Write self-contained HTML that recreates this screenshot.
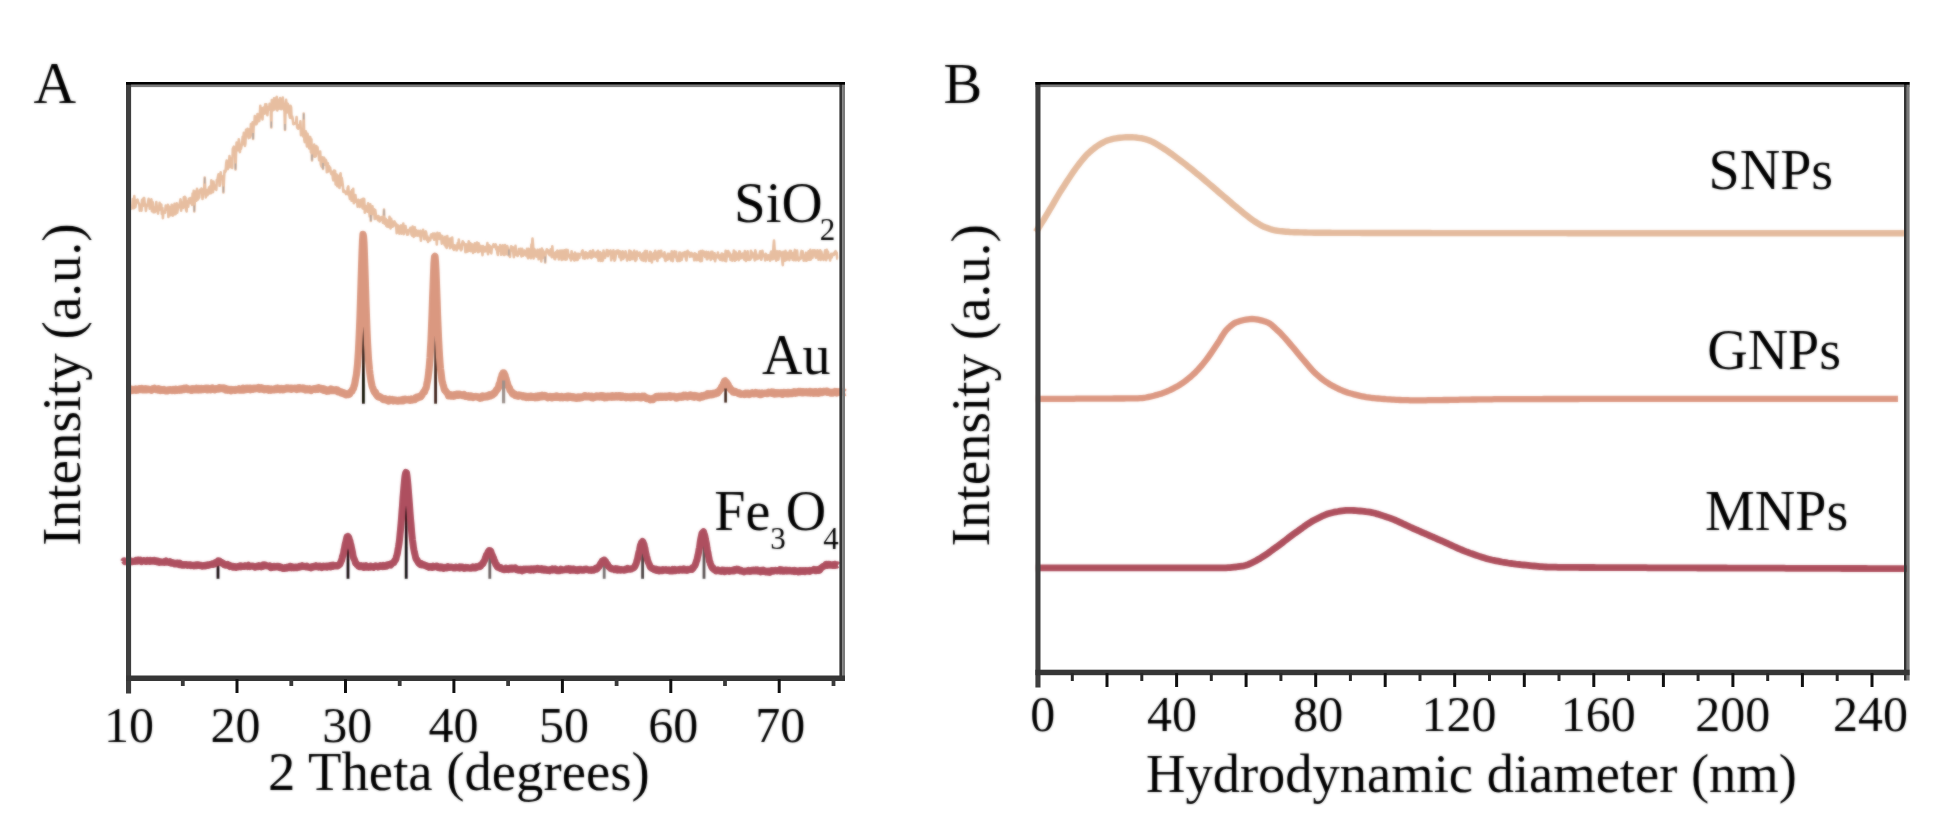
<!DOCTYPE html>
<html lang="en"><head><meta charset="utf-8"><title>XRD and DLS</title>
<style>
html,body{margin:0;padding:0;background:#fff;}
body{width:1947px;height:838px;overflow:hidden;}
svg{display:block;}
text{font-family:"Liberation Serif",serif;fill:#000;}
.t{font-size:50px;text-anchor:middle;}
.l{font-size:56px;}
.s{font-size:31px;}
</style></head><body>
<svg width="1947" height="838" viewBox="0 0 1947 838">
<defs><filter id="soft" x="0" y="0" width="1947" height="838" filterUnits="userSpaceOnUse"><feGaussianBlur stdDeviation="0.9" result="b"/><feComposite in="SourceGraphic" in2="b" operator="arithmetic" k1="0" k2="0.45" k3="0.55" k4="0"/></filter></defs>
<rect x="0" y="0" width="1947" height="838" fill="#fff"/>
<g filter="url(#soft)">
<g id="panelA-data">
<g stroke-width="2.8" fill="none">
<line x1="363.4" y1="285" x2="363.4" y2="403.7" stroke="#120a06"/>
<line x1="435.6" y1="310" x2="435.6" y2="403.7" stroke="#3a2018"/>
<line x1="218" y1="563" x2="218" y2="578.8" stroke="#1a1012"/>
<line x1="348" y1="538" x2="348" y2="578.8" stroke="#1a1012"/>
<line x1="406.2" y1="480" x2="406.2" y2="578.8" stroke="#120a0c"/>
<line x1="489.8" y1="552" x2="489.8" y2="578.8" stroke="#6a6060"/>
<line x1="604.2" y1="560" x2="604.2" y2="578.8" stroke="#777070"/>
<line x1="642.6" y1="542" x2="642.6" y2="578.8" stroke="#4a4242"/>
<line x1="704" y1="535" x2="704" y2="578.8" stroke="#5a5252"/>
</g>
<path d="M131.0,204.8 L131.6,208.6 L132.1,206.9 L132.7,199.1 L133.2,200.2 L133.8,208.3 L134.3,196.0 L134.9,207.5 L135.4,207.2 L136.0,202.6 L136.5,200.3 L137.1,200.0 L137.6,199.7 L138.2,202.5 L138.7,203.4 L139.3,204.2 L139.8,210.6 L140.4,207.8 L140.9,205.5 L141.5,210.8 L142.0,200.0 L142.6,199.4 L143.1,205.9 L143.7,198.0 L144.2,198.0 L144.8,204.9 L145.3,204.4 L145.9,210.9 L146.4,207.0 L147.0,205.5 L147.5,205.4 L148.1,202.0 L148.6,198.9 L149.2,201.5 L149.7,208.7 L150.3,201.9 L150.8,204.4 L151.4,199.4 L151.9,211.1 L152.5,201.8 L153.0,203.6 L153.6,212.3 L154.1,207.3 L154.7,212.2 L155.2,209.4 L155.8,211.0 L156.3,202.1 L156.9,208.6 L157.4,208.3 L158.0,213.6 L158.5,206.6 L159.1,210.1 L159.6,202.8 L160.2,207.5 L160.7,206.8 L161.3,204.6 L161.8,214.0 L162.4,208.0 L162.9,218.2 L163.5,211.2 L164.0,211.6 L164.6,212.1 L165.1,212.7 L165.7,205.5 L166.2,209.6 L166.8,206.9 L167.3,209.1 L167.9,204.9 L168.4,217.0 L169.0,206.5 L169.5,212.7 L170.1,207.5 L170.6,215.3 L171.2,212.3 L171.7,204.7 L172.3,214.5 L172.8,215.6 L173.4,214.9 L173.9,210.0 L174.5,203.8 L175.0,204.2 L175.6,214.2 L176.1,208.7 L176.7,203.2 L177.2,212.8 L177.8,209.1 L178.3,207.9 L178.9,204.9 L179.4,205.1 L180.0,202.4 L180.5,199.3 L181.1,210.8 L181.6,204.8 L182.2,205.7 L182.7,202.2 L183.3,208.0 L183.8,197.4 L184.4,202.0 L184.9,196.9 L185.5,197.8 L186.0,209.5 L186.6,211.4 L187.1,201.2 L187.7,202.2 L188.2,206.8 L188.8,198.9 L189.3,202.1 L189.9,203.0 L190.4,198.0 L191.0,200.0 L191.5,203.1 L192.1,204.8 L192.6,193.6 L193.2,204.4 L193.7,190.8 L194.3,211.5 L194.8,201.6 L195.4,191.6 L195.9,195.3 L196.5,200.7 L197.0,188.8 L197.6,197.3 L198.1,199.4 L198.7,195.0 L199.2,197.7 L199.8,190.2 L200.3,189.5 L200.9,191.5 L201.4,188.6 L202.0,190.6 L202.5,199.0 L203.1,193.3 L203.6,189.5 L204.2,188.2 L204.7,177.5 L205.3,190.0 L205.8,197.5 L206.4,190.4 L206.9,190.1 L207.5,195.2 L208.0,192.6 L208.6,189.8 L209.1,187.2 L209.7,193.4 L210.2,186.2 L210.8,193.3 L211.3,180.4 L211.9,185.3 L212.4,186.2 L213.0,192.2 L213.5,181.5 L214.1,189.2 L214.6,186.9 L215.2,187.1 L215.7,185.3 L216.3,189.9 L216.8,180.0 L217.4,180.4 L217.9,177.0 L218.5,174.2 L219.0,176.0 L219.6,185.8 L220.1,184.0 L220.7,172.4 L221.2,178.9 L221.8,176.1 L222.3,176.9 L222.9,176.9 L223.4,192.5 L224.0,179.3 L224.5,170.8 L225.1,172.2 L225.6,171.2 L226.2,163.4 L226.7,160.5 L227.3,164.8 L227.8,169.2 L228.4,161.3 L228.9,166.6 L229.5,156.1 L230.0,167.3 L230.6,164.6 L231.1,164.7 L231.7,158.3 L232.2,168.0 L232.8,148.9 L233.3,147.7 L233.9,146.6 L234.4,149.3 L235.0,148.3 L235.5,169.5 L236.1,151.6 L236.6,142.6 L237.2,150.4 L237.7,143.0 L238.3,150.3 L238.8,139.3 L239.4,143.1 L239.9,152.2 L240.5,145.2 L241.0,148.7 L241.6,145.6 L242.1,144.1 L242.7,136.7 L243.2,142.0 L243.8,132.8 L244.3,144.1 L244.9,145.9 L245.4,143.4 L246.0,129.9 L246.5,133.8 L247.1,132.7 L247.6,128.7 L248.2,136.1 L248.7,138.1 L249.3,129.5 L249.8,137.5 L250.4,135.6 L250.9,124.1 L251.5,133.4 L252.0,134.4 L252.6,122.3 L253.1,139.0 L253.7,124.9 L254.2,125.5 L254.8,116.0 L255.3,124.0 L255.9,122.3 L256.4,124.3 L257.0,122.9 L257.5,114.1 L258.1,119.7 L258.6,121.2 L259.2,121.0 L259.7,117.8 L260.3,105.8 L260.8,115.6 L261.4,108.1 L261.9,113.5 L262.5,119.4 L263.0,109.8 L263.6,107.5 L264.1,110.5 L264.7,113.6 L265.2,104.2 L265.8,108.5 L266.3,104.2 L266.9,112.7 L267.4,115.2 L268.0,107.4 L268.5,107.0 L269.1,109.4 L269.6,103.7 L270.2,103.9 L270.7,104.9 L271.3,127.5 L271.8,100.0 L272.4,110.7 L272.9,107.5 L273.5,102.5 L274.0,98.4 L274.6,109.4 L275.1,100.4 L275.7,98.3 L276.2,98.0 L276.8,96.9 L277.3,110.4 L277.9,99.7 L278.4,100.1 L279.0,108.8 L279.5,105.2 L280.1,98.0 L280.6,102.2 L281.2,109.1 L281.7,101.6 L282.3,107.4 L282.8,97.6 L283.4,108.4 L283.9,109.7 L284.5,110.9 L285.0,130.0 L285.6,104.4 L286.1,99.9 L286.7,108.0 L287.2,112.5 L287.8,103.8 L288.3,105.6 L288.9,110.7 L289.4,114.8 L290.0,117.8 L290.5,105.8 L291.1,107.5 L291.6,118.3 L292.2,116.6 L292.7,118.8 L293.3,124.2 L293.8,124.2 L294.4,123.6 L294.9,123.5 L295.5,122.8 L296.0,123.4 L296.6,117.0 L297.1,127.3 L297.7,128.3 L298.2,128.7 L298.8,125.2 L299.3,127.1 L299.9,126.6 L300.4,121.2 L301.0,135.1 L301.5,131.1 L302.1,129.5 L302.6,132.9 L303.2,136.5 L303.7,113.5 L304.3,139.9 L304.8,142.1 L305.4,134.4 L305.9,131.3 L306.5,142.0 L307.0,146.5 L307.6,133.9 L308.1,143.6 L308.7,146.2 L309.2,148.5 L309.8,136.8 L310.3,137.1 L310.9,152.1 L311.4,139.2 L312.0,160.5 L312.5,148.1 L313.1,146.9 L313.6,152.5 L314.2,144.6 L314.7,156.8 L315.3,146.7 L315.8,156.2 L316.4,146.1 L316.9,153.2 L317.5,147.2 L318.0,152.4 L318.6,153.1 L319.1,160.2 L319.7,156.9 L320.2,151.5 L320.8,164.3 L321.3,165.8 L321.9,166.9 L322.4,157.4 L323.0,169.0 L323.5,158.5 L324.1,157.7 L324.6,159.8 L325.2,164.8 L325.7,159.7 L326.3,161.2 L326.8,172.3 L327.4,167.3 L327.9,163.4 L328.5,171.4 L329.0,166.0 L329.6,170.6 L330.1,167.5 L330.7,171.7 L331.2,174.1 L331.8,173.3 L332.3,171.9 L332.9,178.5 L333.4,180.3 L334.0,170.6 L334.5,170.6 L335.1,170.9 L335.6,184.5 L336.2,184.6 L336.7,174.6 L337.3,186.3 L337.8,175.6 L338.4,180.6 L338.9,179.1 L339.5,187.9 L340.0,175.6 L340.6,173.2 L341.1,185.1 L341.7,177.9 L342.2,181.0 L342.8,185.0 L343.3,191.7 L343.9,190.5 L344.4,192.1 L345.0,191.7 L345.5,191.5 L346.1,194.1 L346.6,192.2 L347.2,193.6 L347.7,187.8 L348.3,186.4 L348.8,195.5 L349.4,195.6 L349.9,199.0 L350.5,194.8 L351.0,191.5 L351.6,200.8 L352.1,190.1 L352.7,195.8 L353.2,188.8 L353.8,203.3 L354.3,198.2 L354.9,202.0 L355.4,195.0 L356.0,200.5 L356.5,202.1 L357.1,201.7 L357.6,206.6 L358.2,199.7 L358.7,200.0 L359.3,204.4 L359.8,206.9 L360.4,200.3 L360.9,205.5 L361.5,199.5 L362.0,204.8 L362.6,208.4 L363.1,198.9 L363.7,208.7 L364.2,199.1 L364.8,212.8 L365.3,206.4 L365.9,206.0 L366.4,210.8 L367.0,208.5 L367.5,211.8 L368.1,203.2 L368.6,210.3 L369.2,210.7 L369.7,216.3 L370.3,204.3 L370.8,221.0 L371.4,213.3 L371.9,212.6 L372.5,206.4 L373.0,213.9 L373.6,209.2 L374.1,209.2 L374.7,219.0 L375.2,210.0 L375.8,214.0 L376.3,218.4 L376.9,218.2 L377.4,216.4 L378.0,220.3 L378.5,216.0 L379.1,218.5 L379.6,221.5 L380.2,220.0 L380.7,219.8 L381.3,217.0 L381.8,219.4 L382.4,217.5 L382.9,222.6 L383.5,218.0 L384.0,209.5 L384.6,223.8 L385.1,220.7 L385.7,218.8 L386.2,225.7 L386.8,220.0 L387.3,226.6 L387.9,226.1 L388.4,221.8 L389.0,227.0 L389.5,216.9 L390.1,221.9 L390.6,228.5 L391.2,218.8 L391.7,225.0 L392.3,226.7 L392.8,221.8 L393.4,226.2 L393.9,224.3 L394.5,221.4 L395.0,223.1 L395.6,223.3 L396.1,225.4 L396.7,233.2 L397.2,224.8 L397.8,226.3 L398.3,225.5 L398.9,228.5 L399.4,233.6 L400.0,233.0 L400.5,226.5 L401.1,225.3 L401.6,233.6 L402.2,228.7 L402.7,231.4 L403.3,223.6 L403.8,234.2 L404.4,227.1 L404.9,229.7 L405.5,226.0 L406.0,229.1 L406.6,232.7 L407.1,234.8 L407.7,230.4 L408.2,234.4 L408.8,230.6 L409.3,229.6 L409.9,230.0 L410.4,227.8 L411.0,229.5 L411.5,234.7 L412.1,235.7 L412.6,226.6 L413.2,235.6 L413.7,236.8 L414.3,232.2 L414.8,227.4 L415.4,235.6 L415.9,230.1 L416.5,235.4 L417.0,232.1 L417.6,235.6 L418.1,230.9 L418.7,233.9 L419.2,234.7 L419.8,236.2 L420.3,230.8 L420.9,240.7 L421.4,232.2 L422.0,232.6 L422.5,232.1 L423.1,229.8 L423.6,234.5 L424.2,239.1 L424.7,238.5 L425.3,232.0 L425.8,231.4 L426.4,233.9 L426.9,239.8 L427.5,236.3 L428.0,242.0 L428.6,238.7 L429.1,238.4 L429.7,240.4 L430.2,240.3 L430.8,235.3 L431.3,234.3 L431.9,236.7 L432.4,237.5 L433.0,233.5 L433.5,237.1 L434.1,239.8 L434.6,233.5 L435.2,233.7 L435.7,234.3 L436.3,235.8 L436.8,244.5 L437.4,232.8 L437.9,235.0 L438.5,234.9 L439.0,238.9 L439.6,233.3 L440.1,239.0 L440.7,235.4 L441.2,236.9 L441.8,243.6 L442.3,236.1 L442.9,241.7 L443.4,239.2 L444.0,239.5 L444.5,244.7 L445.1,236.7 L445.6,246.4 L446.2,246.1 L446.7,248.0 L447.3,236.0 L447.8,243.8 L448.4,243.2 L448.9,245.5 L449.5,238.8 L450.0,248.2 L450.6,247.5 L451.1,238.2 L451.7,238.9 L452.2,237.5 L452.8,247.6 L453.3,248.8 L453.9,249.9 L454.4,245.4 L455.0,246.3 L455.5,246.6 L456.1,245.5 L456.6,250.3 L457.2,248.2 L457.7,243.1 L458.3,245.4 L458.8,239.6 L459.4,248.3 L459.9,248.1 L460.5,244.9 L461.0,250.3 L461.6,249.3 L462.1,244.3 L462.7,241.3 L463.2,242.1 L463.8,242.8 L464.3,244.4 L464.9,246.2 L465.4,252.1 L466.0,244.3 L466.5,251.9 L467.1,249.3 L467.6,251.5 L468.2,246.1 L468.7,241.3 L469.3,250.8 L469.8,244.4 L470.4,243.2 L470.9,251.1 L471.5,249.8 L472.0,244.2 L472.6,244.9 L473.1,253.0 L473.7,245.0 L474.2,250.3 L474.8,243.4 L475.3,251.7 L475.9,243.4 L476.4,248.2 L477.0,242.5 L477.5,248.7 L478.1,252.3 L478.6,243.2 L479.2,245.5 L479.7,251.4 L480.3,249.5 L480.8,246.1 L481.4,249.9 L481.9,247.8 L482.5,255.1 L483.0,246.0 L483.6,251.6 L484.1,250.1 L484.7,251.4 L485.2,247.1 L485.8,251.3 L486.3,251.0 L486.9,247.4 L487.4,243.1 L488.0,254.3 L488.5,251.4 L489.1,245.4 L489.6,251.7 L490.2,246.4 L490.7,248.7 L491.3,253.4 L491.8,248.6 L492.4,246.7 L492.9,247.0 L493.5,244.3 L494.0,246.1 L494.6,246.8 L495.1,245.7 L495.7,244.4 L496.2,249.3 L496.8,246.4 L497.3,252.6 L497.9,254.9 L498.4,247.3 L499.0,250.9 L499.5,250.2 L500.1,245.1 L500.6,245.8 L501.2,254.8 L501.7,250.1 L502.3,254.0 L502.8,245.4 L503.4,251.7 L503.9,254.9 L504.5,255.0 L505.0,245.0 L505.6,251.1 L506.1,249.4 L506.7,254.1 L507.2,246.1 L507.8,248.4 L508.3,254.9 L508.9,255.5 L509.4,250.9 L510.0,256.9 L510.5,249.5 L511.1,246.3 L511.6,250.4 L512.2,247.7 L512.7,247.0 L513.3,252.7 L513.8,257.2 L514.4,253.0 L514.9,253.8 L515.5,245.8 L516.0,253.1 L516.6,255.2 L517.1,253.4 L517.7,255.9 L518.2,254.0 L518.8,249.1 L519.3,253.6 L519.9,252.6 L520.4,248.9 L521.0,254.2 L521.5,256.5 L522.1,248.7 L522.6,253.5 L523.2,255.7 L523.7,252.0 L524.3,250.5 L524.8,251.7 L525.4,253.7 L525.9,255.4 L526.5,254.0 L527.0,248.8 L527.6,257.0 L528.1,258.2 L528.7,248.9 L529.2,250.6 L529.8,249.8 L530.3,257.5 L530.9,258.2 L531.4,244.6 L532.0,245.3 L532.5,238.6 L533.1,245.4 L533.6,258.5 L534.2,248.8 L534.7,250.0 L535.3,253.6 L535.8,254.0 L536.4,256.6 L536.9,253.1 L537.5,249.8 L538.0,252.2 L538.6,259.3 L539.1,256.7 L539.7,249.6 L540.2,257.4 L540.8,251.9 L541.3,261.4 L541.9,248.5 L542.4,258.2 L543.0,250.3 L543.5,253.6 L544.1,255.9 L544.6,254.2 L545.2,262.5 L545.7,251.9 L546.3,251.8 L546.8,249.2 L547.4,251.1 L547.9,250.1 L548.5,253.9 L549.0,252.7 L549.6,255.3 L550.1,251.9 L550.7,249.2 L551.2,252.5 L551.8,257.3 L552.3,246.3 L552.9,253.4 L553.4,257.3 L554.0,253.4 L554.5,258.8 L555.1,259.2 L555.6,252.4 L556.2,257.2 L556.7,251.8 L557.3,250.6 L557.8,253.9 L558.4,255.8 L558.9,259.5 L559.5,250.7 L560.0,257.1 L560.6,254.4 L561.1,250.6 L561.7,260.0 L562.2,256.9 L562.8,250.6 L563.3,259.3 L563.9,250.4 L564.4,250.3 L565.0,253.0 L565.5,259.7 L566.1,249.7 L566.6,259.5 L567.2,256.1 L567.7,250.1 L568.3,255.7 L568.8,254.5 L569.4,255.7 L569.9,258.1 L570.5,257.0 L571.0,260.5 L571.6,251.2 L572.1,258.5 L572.7,254.1 L573.2,258.2 L573.8,259.4 L574.3,260.5 L574.9,252.5 L575.4,254.6 L576.0,260.0 L576.5,257.0 L577.1,253.7 L577.6,260.0 L578.2,257.0 L578.7,253.8 L579.3,258.0 L579.8,254.9 L580.4,254.6 L580.9,254.0 L581.5,254.5 L582.0,251.3 L582.6,250.4 L583.1,258.1 L583.7,256.0 L584.2,257.2 L584.8,258.6 L585.3,252.3 L585.9,252.4 L586.4,252.9 L587.0,253.2 L587.5,258.2 L588.1,254.0 L588.6,253.4 L589.2,256.9 L589.7,251.9 L590.3,251.1 L590.8,257.6 L591.4,258.2 L591.9,252.7 L592.5,256.9 L593.0,250.3 L593.6,254.4 L594.1,256.3 L594.7,252.7 L595.2,253.8 L595.8,256.7 L596.3,256.4 L596.9,251.7 L597.4,257.7 L598.0,250.9 L598.5,260.6 L599.1,252.2 L599.6,252.8 L600.2,252.2 L600.7,260.9 L601.3,253.2 L601.8,256.7 L602.4,260.9 L602.9,260.4 L603.5,250.5 L604.0,255.8 L604.6,256.6 L605.1,257.8 L605.7,253.8 L606.2,253.7 L606.8,250.1 L607.3,250.5 L607.9,256.1 L608.4,250.9 L609.0,252.3 L609.5,253.8 L610.1,250.9 L610.6,250.5 L611.2,260.3 L611.7,254.9 L612.3,252.4 L612.8,257.9 L613.4,250.3 L613.9,252.8 L614.5,260.6 L615.0,260.0 L615.6,257.1 L616.1,251.2 L616.7,253.7 L617.2,250.5 L617.8,252.6 L618.3,250.5 L618.9,251.6 L619.4,257.1 L620.0,251.3 L620.5,251.9 L621.1,260.1 L621.6,253.9 L622.2,253.9 L622.7,251.2 L623.3,258.9 L623.8,257.6 L624.4,256.2 L624.9,257.0 L625.5,251.4 L626.0,253.1 L626.6,256.6 L627.1,260.6 L627.7,259.2 L628.2,257.3 L628.8,255.9 L629.3,250.5 L629.9,260.0 L630.4,251.0 L631.0,251.7 L631.5,257.8 L632.1,259.1 L632.6,258.9 L633.2,255.2 L633.7,252.3 L634.3,250.7 L634.8,259.6 L635.4,260.9 L635.9,253.0 L636.5,259.7 L637.0,251.5 L637.6,253.7 L638.1,255.8 L638.7,254.2 L639.2,255.2 L639.8,252.6 L640.3,258.1 L640.9,255.8 L641.4,259.8 L642.0,260.1 L642.5,253.8 L643.1,253.4 L643.6,260.6 L644.2,255.9 L644.7,251.5 L645.3,250.9 L645.8,261.1 L646.4,256.7 L646.9,251.0 L647.5,256.0 L648.0,255.9 L648.6,255.2 L649.1,260.7 L649.7,260.7 L650.2,251.8 L650.8,252.1 L651.3,254.9 L651.9,262.4 L652.4,257.2 L653.0,258.4 L653.5,254.3 L654.1,252.8 L654.6,259.3 L655.2,250.7 L655.7,258.0 L656.3,252.6 L656.8,255.6 L657.4,261.0 L657.9,256.3 L658.5,251.1 L659.0,255.1 L659.6,257.6 L660.1,251.1 L660.7,253.3 L661.2,250.7 L661.8,256.3 L662.3,254.6 L662.9,256.0 L663.4,253.7 L664.0,257.6 L664.5,252.4 L665.1,260.3 L665.6,260.9 L666.2,255.9 L666.7,255.6 L667.3,259.8 L667.8,253.7 L668.4,259.2 L668.9,253.7 L669.5,258.3 L670.0,254.2 L670.6,257.0 L671.1,260.5 L671.7,251.2 L672.2,259.2 L672.8,261.1 L673.3,254.7 L673.9,254.4 L674.4,251.4 L675.0,253.4 L675.5,257.3 L676.1,251.7 L676.6,257.8 L677.2,260.9 L677.7,261.1 L678.3,258.9 L678.8,259.2 L679.4,252.5 L679.9,261.0 L680.5,252.8 L681.0,259.9 L681.6,260.0 L682.1,257.3 L682.7,256.2 L683.2,252.8 L683.8,256.2 L684.3,253.8 L684.9,252.0 L685.4,252.0 L686.0,259.2 L686.5,260.5 L687.1,252.2 L687.6,250.8 L688.2,253.5 L688.7,252.1 L689.3,252.7 L689.8,256.9 L690.4,255.2 L690.9,255.2 L691.5,252.9 L692.0,256.5 L692.6,253.8 L693.1,254.9 L693.7,255.6 L694.2,260.3 L694.8,253.3 L695.3,258.3 L695.9,254.0 L696.4,260.2 L697.0,254.9 L697.5,256.1 L698.1,260.0 L698.6,257.8 L699.2,251.7 L699.7,252.2 L700.3,261.2 L700.8,251.0 L701.4,254.4 L701.9,260.9 L702.5,250.9 L703.0,252.4 L703.6,253.0 L704.1,251.6 L704.7,255.7 L705.2,257.0 L705.8,254.1 L706.3,251.8 L706.9,259.3 L707.4,259.2 L708.0,256.7 L708.5,252.1 L709.1,256.4 L709.6,257.4 L710.2,255.2 L710.7,259.9 L711.3,251.8 L711.8,256.1 L712.4,251.9 L712.9,256.7 L713.5,258.8 L714.0,258.4 L714.6,253.4 L715.1,261.2 L715.7,258.3 L716.2,255.2 L716.8,255.1 L717.3,257.2 L717.9,252.5 L718.4,257.5 L719.0,258.3 L719.5,256.1 L720.1,259.9 L720.6,255.0 L721.2,255.6 L721.7,253.6 L722.3,260.4 L722.8,254.0 L723.4,258.0 L723.9,255.0 L724.5,260.6 L725.0,260.7 L725.6,250.9 L726.1,261.2 L726.7,257.0 L727.2,251.3 L727.8,255.9 L728.3,251.1 L728.9,256.4 L729.4,252.5 L730.0,254.5 L730.5,259.9 L731.1,257.0 L731.6,259.4 L732.2,260.6 L732.7,254.0 L733.3,256.6 L733.8,250.5 L734.4,254.5 L734.9,260.8 L735.5,251.7 L736.0,259.8 L736.6,257.5 L737.1,253.6 L737.7,258.8 L738.2,253.6 L738.8,260.1 L739.3,251.3 L739.9,251.7 L740.4,258.5 L741.0,255.3 L741.5,258.0 L742.1,256.0 L742.6,253.6 L743.2,256.3 L743.7,258.4 L744.3,259.7 L744.8,251.0 L745.4,256.8 L745.9,261.0 L746.5,255.3 L747.0,258.7 L747.6,251.4 L748.1,259.8 L748.7,256.6 L749.2,260.0 L749.8,258.9 L750.3,259.7 L750.9,250.9 L751.4,258.1 L752.0,252.4 L752.5,253.2 L753.1,253.8 L753.6,256.7 L754.2,257.1 L754.7,260.4 L755.3,250.4 L755.8,252.4 L756.4,254.2 L756.9,259.1 L757.5,256.2 L758.0,255.8 L758.6,258.5 L759.1,257.4 L759.7,253.4 L760.2,251.2 L760.8,255.2 L761.3,259.8 L761.9,256.7 L762.4,250.8 L763.0,255.0 L763.5,254.4 L764.1,256.5 L764.6,256.6 L765.2,260.5 L765.7,253.8 L766.3,254.6 L766.8,256.8 L767.4,259.8 L767.9,257.8 L768.5,255.3 L769.0,259.0 L769.6,255.4 L770.1,260.6 L770.7,253.2 L771.2,251.5 L771.8,259.2 L772.3,253.3 L772.9,259.3 L773.4,247.3 L774.0,240.5 L774.5,247.3 L775.1,258.7 L775.6,250.8 L776.2,260.6 L776.7,259.6 L777.3,253.4 L777.8,251.4 L778.4,259.7 L778.9,255.3 L779.5,251.4 L780.0,255.5 L780.6,251.7 L781.1,254.5 L781.7,257.0 L782.2,260.0 L782.8,265.2 L783.3,251.8 L783.9,255.2 L784.4,255.4 L785.0,260.8 L785.5,250.9 L786.1,255.6 L786.6,260.0 L787.2,254.3 L787.7,252.8 L788.3,256.1 L788.8,253.5 L789.4,260.1 L789.9,250.9 L790.5,252.2 L791.0,250.9 L791.6,257.7 L792.1,253.1 L792.7,259.8 L793.2,259.7 L793.8,260.2 L794.3,252.7 L794.9,249.9 L795.4,254.1 L796.0,260.3 L796.5,258.3 L797.1,250.5 L797.6,257.6 L798.2,259.9 L798.7,260.5 L799.3,257.7 L799.8,259.3 L800.4,259.1 L800.9,253.8 L801.5,250.9 L802.0,257.8 L802.6,251.3 L803.1,255.6 L803.7,260.8 L804.2,256.0 L804.8,255.5 L805.3,260.2 L805.9,252.9 L806.4,260.8 L807.0,259.8 L807.5,253.8 L808.1,253.4 L808.6,251.2 L809.2,259.8 L809.7,251.8 L810.3,249.8 L810.8,259.6 L811.4,256.3 L811.9,257.1 L812.5,257.8 L813.0,250.2 L813.6,254.3 L814.1,255.2 L814.7,250.3 L815.2,255.3 L815.8,257.8 L816.3,256.9 L816.9,256.5 L817.4,250.2 L818.0,252.3 L818.5,259.6 L819.1,251.0 L819.6,255.5 L820.2,250.2 L820.7,260.0 L821.3,251.5 L821.8,254.2 L822.4,255.7 L822.9,258.7 L823.5,260.0 L824.0,257.7 L824.6,253.4 L825.1,250.4 L825.7,257.4 L826.2,260.3 L826.8,249.8 L827.3,258.1 L827.9,251.5 L828.4,254.6 L829.0,255.3 L829.5,256.3 L830.1,260.5 L830.6,257.1 L831.2,253.9 L831.7,257.4 L832.3,254.7 L832.8,254.1 L833.4,253.6 L833.9,255.0 L834.5,252.6 L835.0,252.2 L835.6,251.1 L836.1,254.4 L836.7,252.7 L837.2,258.7 L837.8,258.9" fill="none" stroke="#e7bea0" stroke-width="2.6" stroke-linejoin="round"/>
<g stroke="#8f969e" stroke-width="1.4" opacity="0.7">
<line x1="204.7" y1="183.5" x2="204.7" y2="177.5"/>
<line x1="223.4" y1="186.5" x2="223.4" y2="192.5"/>
<line x1="194.3" y1="205.5" x2="194.3" y2="211.5"/>
<line x1="235.5" y1="163.5" x2="235.5" y2="169.5"/>
<line x1="253.1" y1="133.0" x2="253.1" y2="139.0"/>
<line x1="271.3" y1="121.5" x2="271.3" y2="127.5"/>
<line x1="285.0" y1="124.0" x2="285.0" y2="130.0"/>
<line x1="303.7" y1="119.5" x2="303.7" y2="113.5"/>
<line x1="312.0" y1="154.5" x2="312.0" y2="160.5"/>
<line x1="323.0" y1="163.0" x2="323.0" y2="169.0"/>
<line x1="370.8" y1="215.0" x2="370.8" y2="221.0"/>
<line x1="384.0" y1="215.5" x2="384.0" y2="209.5"/>
<line x1="508.9" y1="249.5" x2="508.9" y2="255.5"/>
<line x1="545.2" y1="256.5" x2="545.2" y2="262.5"/>
</g>
<path d="M129.0,389.3 L129.5,388.9 L130.0,388.9 L130.5,389.6 L131.0,389.6 L131.5,390.6 L132.0,389.3 L132.5,390.2 L133.0,390.3 L133.5,389.7 L134.0,389.8 L134.5,389.4 L135.0,389.3 L135.5,389.0 L136.0,390.3 L136.5,389.3 L137.0,389.3 L137.5,390.0 L138.0,389.3 L138.5,389.5 L139.0,388.7 L139.5,388.6 L140.0,389.5 L140.5,388.6 L141.0,388.8 L141.5,389.4 L142.0,388.6 L142.5,389.9 L143.0,388.6 L143.5,389.0 L144.0,389.2 L144.5,389.3 L145.0,389.8 L145.5,388.7 L146.0,389.7 L146.5,389.9 L147.0,389.0 L147.5,389.6 L148.0,389.4 L148.5,389.2 L149.0,389.5 L149.5,389.7 L150.0,389.8 L150.5,389.9 L151.0,389.7 L151.5,390.2 L152.0,389.5 L152.5,388.8 L153.0,388.6 L153.5,388.7 L154.0,388.8 L154.5,388.4 L155.0,389.2 L155.5,389.4 L156.0,389.6 L156.5,389.3 L157.0,389.4 L157.5,389.2 L158.0,390.1 L158.5,388.6 L159.0,389.3 L159.5,389.9 L160.0,389.4 L160.5,390.5 L161.0,390.1 L161.5,389.8 L162.0,389.6 L162.5,390.0 L163.0,390.3 L163.5,389.9 L164.0,389.5 L164.5,390.3 L165.0,390.0 L165.5,390.8 L166.0,390.6 L166.5,391.0 L167.0,391.0 L167.5,390.9 L168.0,390.1 L168.5,390.5 L169.0,389.9 L169.5,389.8 L170.0,389.6 L170.5,389.6 L171.0,390.2 L171.5,390.0 L172.0,390.5 L172.5,389.9 L173.0,389.6 L173.5,390.3 L174.0,389.8 L174.5,390.5 L175.0,389.5 L175.5,389.9 L176.0,389.3 L176.5,389.6 L177.0,390.3 L177.5,389.7 L178.0,390.2 L178.5,390.1 L179.0,389.2 L179.5,389.1 L180.0,390.3 L180.5,389.3 L181.0,389.6 L181.5,389.0 L182.0,389.9 L182.5,388.7 L183.0,389.1 L183.5,389.1 L184.0,389.5 L184.5,388.3 L185.0,388.9 L185.5,388.8 L186.0,388.9 L186.5,388.1 L187.0,388.7 L187.5,389.3 L188.0,389.6 L188.5,388.9 L189.0,389.2 L189.5,389.1 L190.0,389.0 L190.5,389.0 L191.0,390.2 L191.5,388.9 L192.0,390.3 L192.5,388.9 L193.0,388.7 L193.5,388.9 L194.0,389.0 L194.5,389.7 L195.0,389.9 L195.5,389.7 L196.0,388.9 L196.5,388.2 L197.0,389.6 L197.5,389.8 L198.0,388.9 L198.5,390.0 L199.0,388.4 L199.5,389.6 L200.0,389.3 L200.5,389.7 L201.0,389.9 L201.5,388.5 L202.0,389.3 L202.5,389.0 L203.0,389.4 L203.5,388.7 L204.0,389.1 L204.5,389.3 L205.0,388.4 L205.5,389.1 L206.0,389.5 L206.5,388.2 L207.0,389.8 L207.5,389.0 L208.0,388.4 L208.5,389.7 L209.0,388.9 L209.5,388.9 L210.0,388.7 L210.5,389.7 L211.0,388.4 L211.5,388.8 L212.0,388.6 L212.5,388.0 L213.0,389.2 L213.5,388.7 L214.0,389.0 L214.5,389.7 L215.0,389.1 L215.5,388.8 L216.0,389.4 L216.5,389.2 L217.0,388.5 L217.5,388.3 L218.0,388.5 L218.5,388.9 L219.0,387.9 L219.5,389.0 L220.0,387.8 L220.5,388.0 L221.0,387.9 L221.5,388.3 L222.0,388.4 L222.5,388.8 L223.0,388.9 L223.5,387.9 L224.0,389.0 L224.5,388.2 L225.0,388.8 L225.5,388.5 L226.0,390.1 L226.5,389.2 L227.0,390.0 L227.5,389.1 L228.0,390.3 L228.5,389.5 L229.0,389.9 L229.5,390.3 L230.0,389.5 L230.5,390.2 L231.0,390.7 L231.5,389.5 L232.0,389.9 L232.5,389.6 L233.0,389.5 L233.5,389.8 L234.0,389.7 L234.5,390.1 L235.0,390.4 L235.5,390.0 L236.0,389.5 L236.5,389.7 L237.0,389.7 L237.5,389.9 L238.0,389.8 L238.5,389.3 L239.0,388.7 L239.5,390.1 L240.0,389.2 L240.5,389.4 L241.0,390.0 L241.5,389.0 L242.0,390.1 L242.5,388.9 L243.0,388.4 L243.5,389.3 L244.0,389.9 L244.5,389.2 L245.0,389.8 L245.5,389.0 L246.0,389.4 L246.5,388.3 L247.0,388.7 L247.5,388.3 L248.0,389.1 L248.5,388.6 L249.0,388.8 L249.5,388.2 L250.0,388.8 L250.5,389.6 L251.0,388.3 L251.5,388.5 L252.0,389.1 L252.5,389.1 L253.0,389.3 L253.5,388.3 L254.0,388.9 L254.5,388.2 L255.0,388.7 L255.5,388.8 L256.0,388.2 L256.5,388.3 L257.0,388.3 L257.5,387.9 L258.0,388.0 L258.5,388.8 L259.0,387.6 L259.5,389.3 L260.0,389.2 L260.5,389.2 L261.0,388.9 L261.5,387.8 L262.0,388.3 L262.5,388.5 L263.0,388.4 L263.5,388.3 L264.0,389.8 L264.5,389.8 L265.0,389.7 L265.5,388.9 L266.0,389.7 L266.5,389.7 L267.0,388.9 L267.5,388.5 L268.0,388.5 L268.5,389.3 L269.0,390.2 L269.5,388.9 L270.0,389.5 L270.5,389.4 L271.0,390.2 L271.5,389.1 L272.0,389.8 L272.5,389.3 L273.0,389.4 L273.5,389.8 L274.0,389.6 L274.5,389.8 L275.0,388.7 L275.5,388.5 L276.0,388.4 L276.5,388.4 L277.0,388.2 L277.5,389.5 L278.0,388.2 L278.5,388.4 L279.0,389.3 L279.5,389.2 L280.0,389.7 L280.5,388.8 L281.0,388.5 L281.5,389.6 L282.0,389.0 L282.5,389.7 L283.0,388.6 L283.5,388.6 L284.0,389.6 L284.5,389.5 L285.0,389.2 L285.5,389.1 L286.0,388.8 L286.5,387.9 L287.0,387.9 L287.5,388.1 L288.0,388.7 L288.5,388.0 L289.0,388.0 L289.5,388.6 L290.0,388.7 L290.5,388.4 L291.0,389.5 L291.5,389.5 L292.0,388.1 L292.5,388.8 L293.0,388.5 L293.5,388.6 L294.0,388.3 L294.5,388.4 L295.0,388.2 L295.5,388.4 L296.0,389.1 L296.5,388.5 L297.0,389.4 L297.5,389.1 L298.0,388.1 L298.5,388.7 L299.0,389.0 L299.5,387.7 L300.0,388.4 L300.5,388.3 L301.0,388.2 L301.5,388.1 L302.0,388.0 L302.5,388.9 L303.0,388.1 L303.5,388.4 L304.0,389.2 L304.5,388.3 L305.0,388.7 L305.5,389.9 L306.0,389.4 L306.5,389.5 L307.0,388.9 L307.5,389.7 L308.0,389.4 L308.5,389.8 L309.0,389.4 L309.5,388.8 L310.0,390.1 L310.5,390.0 L311.0,390.4 L311.5,389.7 L312.0,389.5 L312.5,389.2 L313.0,389.1 L313.5,388.8 L314.0,388.6 L314.5,388.7 L315.0,388.6 L315.5,389.4 L316.0,388.7 L316.5,389.2 L317.0,388.1 L317.5,388.2 L318.0,389.2 L318.5,387.6 L319.0,387.7 L319.5,388.3 L320.0,388.0 L320.5,388.2 L321.0,389.0 L321.5,389.3 L322.0,388.6 L322.5,389.3 L323.0,389.4 L323.5,390.3 L324.0,388.8 L324.5,389.3 L325.0,389.9 L325.5,389.5 L326.0,390.9 L326.5,391.2 L327.0,390.0 L327.5,391.0 L328.0,390.3 L328.5,391.0 L329.0,389.9 L329.5,389.5 L330.0,389.5 L330.5,389.9 L331.0,389.0 L331.5,390.5 L332.0,390.2 L332.5,390.1 L333.0,390.3 L333.5,390.0 L334.0,390.6 L334.5,390.6 L335.0,390.3 L335.5,389.9 L336.0,389.7 L336.5,390.3 L337.0,390.5 L337.5,390.0 L338.0,391.7 L338.5,391.3 L339.0,392.0 L339.5,391.2 L340.0,392.1 L340.5,392.5 L341.0,391.8 L341.5,393.1 L342.0,392.3 L342.5,392.5 L343.0,393.4 L343.5,392.9 L344.0,393.9 L344.5,393.1 L345.0,393.4 L345.5,394.4 L346.0,394.9 L346.5,394.8 L347.0,394.2 L347.5,394.6 L348.0,394.2 L348.5,394.5 L349.0,393.4 L349.5,394.1 L350.0,393.4 L350.5,392.0 L351.0,391.7 L351.5,391.3 L352.0,391.2 L352.5,389.5 L353.0,389.0 L353.5,388.3 L354.0,385.9 L354.5,385.2 L355.0,382.3 L355.5,379.4 L356.0,376.9 L356.5,374.1 L357.0,369.5 L357.5,364.9 L358.0,357.9 L358.5,350.2 L359.0,340.2 L359.5,329.0 L360.0,316.3 L360.5,300.9 L361.0,284.8 L361.5,268.9 L362.0,254.1 L362.5,241.3 L363.0,234.3 L363.5,236.5 L364.0,243.2 L364.5,256.7 L365.0,271.8 L365.5,287.6 L366.0,304.1 L366.5,318.0 L367.0,331.0 L367.5,342.6 L368.0,351.1 L368.5,359.4 L369.0,364.9 L369.5,370.1 L370.0,374.3 L370.5,377.7 L371.0,381.1 L371.5,383.2 L372.0,385.7 L372.5,387.4 L373.0,388.4 L373.5,390.2 L374.0,391.2 L374.5,392.3 L375.0,391.8 L375.5,392.3 L376.0,394.4 L376.5,394.5 L377.0,395.8 L377.5,395.5 L378.0,396.7 L378.5,396.0 L379.0,396.9 L379.5,397.3 L380.0,397.5 L380.5,397.0 L381.0,397.5 L381.5,397.8 L382.0,397.8 L382.5,398.1 L383.0,399.5 L383.5,399.6 L384.0,398.8 L384.5,399.3 L385.0,399.7 L385.5,398.9 L386.0,399.8 L386.5,400.2 L387.0,400.3 L387.5,399.5 L388.0,400.9 L388.5,401.1 L389.0,399.6 L389.5,400.3 L390.0,399.2 L390.5,400.2 L391.0,400.1 L391.5,399.9 L392.0,400.2 L392.5,399.5 L393.0,399.7 L393.5,401.0 L394.0,399.9 L394.5,400.0 L395.0,400.1 L395.5,400.5 L396.0,400.2 L396.5,400.9 L397.0,401.0 L397.5,401.2 L398.0,401.2 L398.5,401.2 L399.0,400.2 L399.5,400.4 L400.0,401.0 L400.5,400.9 L401.0,401.0 L401.5,400.8 L402.0,399.7 L402.5,399.5 L403.0,400.8 L403.5,400.8 L404.0,400.0 L404.5,399.4 L405.0,399.2 L405.5,399.8 L406.0,399.8 L406.5,399.9 L407.0,399.6 L407.5,399.8 L408.0,399.9 L408.5,399.4 L409.0,399.4 L409.5,399.7 L410.0,400.4 L410.5,400.3 L411.0,399.4 L411.5,399.0 L412.0,399.2 L412.5,399.9 L413.0,399.5 L413.5,399.4 L414.0,399.6 L414.5,399.1 L415.0,399.4 L415.5,398.0 L416.0,398.1 L416.5,397.3 L417.0,397.9 L417.5,398.1 L418.0,397.3 L418.5,396.8 L419.0,397.2 L419.5,396.4 L420.0,396.2 L420.5,396.2 L421.0,396.6 L421.5,395.2 L422.0,395.2 L422.5,393.8 L423.0,393.3 L423.5,392.2 L424.0,391.4 L424.5,391.9 L425.0,390.3 L425.5,388.8 L426.0,388.4 L426.5,386.2 L427.0,383.2 L427.5,380.9 L428.0,378.1 L428.5,373.8 L429.0,369.8 L429.5,364.0 L430.0,358.0 L430.5,348.8 L431.0,340.5 L431.5,328.1 L432.0,315.7 L432.5,301.4 L433.0,288.5 L433.5,274.9 L434.0,262.7 L434.5,257.0 L435.0,256.2 L435.5,262.0 L436.0,271.5 L436.5,285.7 L437.0,299.0 L437.5,314.0 L438.0,326.1 L438.5,338.0 L439.0,347.5 L439.5,356.0 L440.0,362.9 L440.5,368.6 L441.0,372.5 L441.5,376.5 L442.0,380.9 L442.5,382.4 L443.0,384.6 L443.5,386.0 L444.0,388.3 L444.5,390.0 L445.0,389.9 L445.5,390.8 L446.0,391.7 L446.5,392.1 L447.0,393.0 L447.5,393.4 L448.0,394.3 L448.5,395.9 L449.0,394.7 L449.5,395.3 L450.0,395.0 L450.5,394.8 L451.0,396.1 L451.5,395.0 L452.0,395.1 L452.5,396.1 L453.0,395.1 L453.5,395.0 L454.0,396.2 L454.5,394.8 L455.0,395.8 L455.5,394.8 L456.0,395.0 L456.5,394.2 L457.0,394.2 L457.5,395.2 L458.0,395.4 L458.5,394.3 L459.0,395.2 L459.5,394.2 L460.0,394.4 L460.5,394.3 L461.0,395.1 L461.5,395.2 L462.0,395.4 L462.5,395.6 L463.0,394.9 L463.5,394.6 L464.0,394.4 L464.5,395.2 L465.0,396.2 L465.5,395.5 L466.0,395.6 L466.5,396.3 L467.0,396.4 L467.5,396.5 L468.0,396.5 L468.5,395.9 L469.0,397.1 L469.5,396.5 L470.0,396.8 L470.5,396.0 L471.0,397.1 L471.5,396.0 L472.0,397.3 L472.5,397.5 L473.0,396.4 L473.5,397.4 L474.0,397.0 L474.5,397.0 L475.0,396.7 L475.5,396.7 L476.0,396.3 L476.5,396.6 L477.0,397.0 L477.5,397.2 L478.0,397.5 L478.5,396.9 L479.0,396.9 L479.5,397.6 L480.0,398.1 L480.5,396.9 L481.0,397.1 L481.5,396.8 L482.0,397.8 L482.5,396.0 L483.0,397.1 L483.5,396.7 L484.0,396.3 L484.5,397.0 L485.0,396.4 L485.5,396.6 L486.0,396.0 L486.5,396.8 L487.0,396.1 L487.5,396.7 L488.0,396.1 L488.5,395.6 L489.0,396.1 L489.5,394.7 L490.0,395.7 L490.5,395.9 L491.0,395.6 L491.5,395.0 L492.0,394.7 L492.5,395.0 L493.0,393.8 L493.5,394.1 L494.0,393.7 L494.5,393.5 L495.0,392.1 L495.5,392.0 L496.0,390.6 L496.5,389.8 L497.0,389.2 L497.5,389.4 L498.0,387.9 L498.5,387.5 L499.0,384.7 L499.5,383.5 L500.0,382.9 L500.5,380.3 L501.0,378.2 L501.5,377.4 L502.0,374.9 L502.5,375.0 L503.0,373.0 L503.5,373.6 L504.0,373.1 L504.5,374.8 L505.0,375.0 L505.5,377.5 L506.0,378.3 L506.5,380.3 L507.0,382.3 L507.5,383.7 L508.0,385.5 L508.5,386.7 L509.0,387.4 L509.5,388.1 L510.0,390.1 L510.5,390.7 L511.0,391.4 L511.5,391.7 L512.0,393.2 L512.5,392.6 L513.0,394.0 L513.5,393.4 L514.0,394.3 L514.5,395.0 L515.0,394.1 L515.5,395.6 L516.0,394.8 L516.5,394.8 L517.0,395.4 L517.5,395.9 L518.0,395.2 L518.5,396.3 L519.0,394.9 L519.5,395.5 L520.0,395.6 L520.5,395.9 L521.0,395.9 L521.5,395.5 L522.0,395.8 L522.5,396.0 L523.0,396.6 L523.5,395.9 L524.0,396.6 L524.5,396.1 L525.0,396.1 L525.5,396.1 L526.0,396.3 L526.5,397.4 L527.0,396.7 L527.5,396.6 L528.0,396.4 L528.5,397.4 L529.0,397.0 L529.5,397.0 L530.0,397.2 L530.5,396.4 L531.0,397.1 L531.5,396.2 L532.0,397.2 L532.5,396.9 L533.0,397.3 L533.5,396.5 L534.0,396.6 L534.5,397.2 L535.0,397.6 L535.5,396.5 L536.0,396.2 L536.5,396.3 L537.0,397.0 L537.5,397.4 L538.0,395.9 L538.5,396.5 L539.0,396.1 L539.5,397.2 L540.0,395.7 L540.5,395.7 L541.0,396.6 L541.5,396.9 L542.0,396.6 L542.5,395.3 L543.0,395.7 L543.5,396.0 L544.0,396.6 L544.5,396.4 L545.0,395.5 L545.5,396.1 L546.0,396.7 L546.5,396.3 L547.0,396.9 L547.5,397.6 L548.0,397.8 L548.5,397.3 L549.0,397.0 L549.5,396.7 L550.0,396.4 L550.5,396.6 L551.0,397.4 L551.5,397.5 L552.0,397.9 L552.5,397.6 L553.0,396.6 L553.5,396.8 L554.0,396.5 L554.5,397.0 L555.0,397.4 L555.5,397.3 L556.0,396.6 L556.5,396.1 L557.0,397.4 L557.5,397.5 L558.0,397.4 L558.5,396.5 L559.0,396.8 L559.5,397.2 L560.0,397.6 L560.5,396.8 L561.0,397.0 L561.5,396.3 L562.0,396.5 L562.5,397.1 L563.0,397.7 L563.5,397.2 L564.0,397.2 L564.5,397.3 L565.0,396.8 L565.5,397.4 L566.0,397.0 L566.5,396.5 L567.0,397.2 L567.5,397.8 L568.0,396.1 L568.5,397.6 L569.0,396.1 L569.5,396.5 L570.0,397.4 L570.5,397.4 L571.0,396.4 L571.5,397.4 L572.0,397.0 L572.5,396.8 L573.0,397.7 L573.5,397.5 L574.0,397.1 L574.5,397.7 L575.0,398.1 L575.5,397.9 L576.0,398.0 L576.5,398.3 L577.0,397.4 L577.5,397.1 L578.0,396.9 L578.5,397.7 L579.0,397.5 L579.5,398.2 L580.0,398.2 L580.5,396.9 L581.0,397.1 L581.5,397.2 L582.0,397.2 L582.5,397.5 L583.0,397.0 L583.5,396.3 L584.0,396.7 L584.5,395.9 L585.0,396.3 L585.5,395.7 L586.0,396.8 L586.5,396.7 L587.0,396.8 L587.5,396.6 L588.0,396.7 L588.5,396.9 L589.0,396.0 L589.5,396.8 L590.0,396.6 L590.5,396.8 L591.0,396.4 L591.5,396.2 L592.0,397.9 L592.5,397.9 L593.0,398.0 L593.5,396.9 L594.0,397.5 L594.5,397.4 L595.0,396.7 L595.5,397.2 L596.0,397.2 L596.5,395.9 L597.0,395.8 L597.5,396.3 L598.0,396.6 L598.5,396.6 L599.0,396.4 L599.5,397.0 L600.0,396.7 L600.5,395.7 L601.0,396.1 L601.5,397.1 L602.0,396.9 L602.5,395.8 L603.0,396.9 L603.5,396.1 L604.0,396.8 L604.5,397.8 L605.0,396.2 L605.5,397.4 L606.0,396.6 L606.5,397.7 L607.0,397.6 L607.5,396.2 L608.0,397.0 L608.5,397.1 L609.0,396.2 L609.5,397.0 L610.0,396.2 L610.5,396.1 L611.0,396.5 L611.5,396.4 L612.0,397.2 L612.5,395.7 L613.0,396.1 L613.5,396.4 L614.0,396.9 L614.5,397.1 L615.0,396.4 L615.5,396.8 L616.0,395.7 L616.5,396.7 L617.0,395.8 L617.5,396.9 L618.0,396.5 L618.5,395.7 L619.0,396.6 L619.5,396.0 L620.0,396.2 L620.5,395.8 L621.0,397.4 L621.5,396.7 L622.0,397.3 L622.5,395.9 L623.0,396.9 L623.5,396.5 L624.0,396.8 L624.5,397.0 L625.0,397.5 L625.5,397.7 L626.0,396.5 L626.5,397.7 L627.0,396.8 L627.5,396.7 L628.0,397.1 L628.5,397.0 L629.0,397.5 L629.5,397.2 L630.0,396.8 L630.5,397.8 L631.0,397.8 L631.5,397.2 L632.0,397.4 L632.5,397.6 L633.0,396.5 L633.5,397.6 L634.0,396.5 L634.5,396.2 L635.0,397.5 L635.5,396.4 L636.0,396.6 L636.5,397.2 L637.0,396.7 L637.5,397.1 L638.0,397.1 L638.5,396.6 L639.0,397.7 L639.5,397.6 L640.0,396.8 L640.5,397.7 L641.0,397.3 L641.5,396.6 L642.0,397.8 L642.5,397.0 L643.0,396.4 L643.5,396.8 L644.0,397.0 L644.5,396.4 L645.0,397.1 L645.5,397.3 L646.0,397.6 L646.5,398.5 L647.0,397.9 L647.5,398.0 L648.0,398.2 L648.5,398.7 L649.0,398.4 L649.5,399.2 L650.0,399.8 L650.5,399.8 L651.0,399.2 L651.5,399.5 L652.0,399.6 L652.5,399.3 L653.0,399.5 L653.5,398.3 L654.0,398.6 L654.5,398.1 L655.0,398.2 L655.5,397.8 L656.0,396.8 L656.5,397.7 L657.0,396.5 L657.5,397.0 L658.0,397.2 L658.5,397.5 L659.0,396.3 L659.5,397.3 L660.0,396.6 L660.5,396.2 L661.0,396.6 L661.5,397.3 L662.0,396.6 L662.5,397.3 L663.0,396.2 L663.5,396.5 L664.0,396.6 L664.5,396.2 L665.0,397.3 L665.5,397.3 L666.0,397.2 L666.5,396.4 L667.0,397.2 L667.5,396.4 L668.0,396.4 L668.5,396.8 L669.0,395.9 L669.5,395.7 L670.0,397.0 L670.5,396.5 L671.0,397.3 L671.5,396.6 L672.0,396.2 L672.5,396.8 L673.0,396.7 L673.5,396.6 L674.0,396.2 L674.5,396.7 L675.0,396.6 L675.5,397.1 L676.0,398.1 L676.5,398.1 L677.0,397.6 L677.5,396.8 L678.0,397.7 L678.5,397.3 L679.0,396.8 L679.5,396.2 L680.0,396.0 L680.5,396.3 L681.0,396.2 L681.5,397.3 L682.0,396.8 L682.5,397.1 L683.0,397.2 L683.5,396.4 L684.0,395.2 L684.5,395.6 L685.0,396.6 L685.5,395.1 L686.0,395.4 L686.5,396.2 L687.0,396.7 L687.5,397.0 L688.0,396.7 L688.5,396.6 L689.0,395.7 L689.5,395.2 L690.0,396.1 L690.5,395.0 L691.0,396.4 L691.5,395.3 L692.0,395.5 L692.5,396.9 L693.0,395.5 L693.5,396.5 L694.0,395.8 L694.5,397.2 L695.0,395.5 L695.5,396.4 L696.0,396.8 L696.5,396.2 L697.0,395.8 L697.5,396.0 L698.0,396.2 L698.5,397.4 L699.0,397.0 L699.5,397.7 L700.0,397.1 L700.5,396.9 L701.0,396.2 L701.5,395.9 L702.0,397.1 L702.5,396.7 L703.0,396.1 L703.5,396.6 L704.0,396.5 L704.5,395.4 L705.0,395.0 L705.5,395.7 L706.0,395.8 L706.5,395.8 L707.0,394.6 L707.5,393.8 L708.0,394.2 L708.5,393.9 L709.0,395.1 L709.5,394.1 L710.0,394.8 L710.5,393.8 L711.0,394.7 L711.5,393.9 L712.0,394.6 L712.5,394.1 L713.0,394.4 L713.5,393.2 L714.0,393.0 L714.5,393.1 L715.0,393.9 L715.5,394.0 L716.0,393.5 L716.5,393.2 L717.0,392.2 L717.5,393.1 L718.0,392.1 L718.5,391.8 L719.0,391.6 L719.5,390.2 L720.0,390.0 L720.5,389.4 L721.0,388.9 L721.5,387.0 L722.0,387.3 L722.5,386.6 L723.0,385.0 L723.5,383.2 L724.0,383.3 L724.5,381.0 L725.0,380.8 L725.5,381.8 L726.0,382.0 L726.5,382.0 L727.0,383.9 L727.5,384.6 L728.0,384.4 L728.5,385.7 L729.0,387.3 L729.5,388.2 L730.0,387.7 L730.5,389.2 L731.0,390.1 L731.5,390.1 L732.0,390.1 L732.5,391.1 L733.0,392.1 L733.5,392.1 L734.0,391.3 L734.5,392.4 L735.0,392.2 L735.5,391.6 L736.0,392.0 L736.5,392.1 L737.0,392.7 L737.5,392.7 L738.0,392.6 L738.5,393.6 L739.0,393.4 L739.5,393.1 L740.0,394.0 L740.5,393.8 L741.0,394.3 L741.5,393.8 L742.0,393.8 L742.5,394.1 L743.0,394.2 L743.5,394.3 L744.0,394.5 L744.5,393.7 L745.0,393.4 L745.5,393.2 L746.0,394.3 L746.5,394.2 L747.0,393.8 L747.5,393.7 L748.0,393.2 L748.5,394.1 L749.0,393.7 L749.5,394.5 L750.0,393.7 L750.5,393.4 L751.0,393.6 L751.5,393.7 L752.0,393.6 L752.5,392.8 L753.0,393.4 L753.5,393.8 L754.0,393.2 L754.5,393.8 L755.0,393.1 L755.5,393.5 L756.0,392.5 L756.5,392.7 L757.0,392.9 L757.5,393.3 L758.0,393.2 L758.5,394.1 L759.0,394.2 L759.5,393.1 L760.0,394.5 L760.5,394.0 L761.0,394.5 L761.5,393.8 L762.0,394.3 L762.5,393.0 L763.0,393.9 L763.5,393.6 L764.0,393.3 L764.5,393.2 L765.0,393.1 L765.5,393.1 L766.0,393.0 L766.5,393.3 L767.0,393.6 L767.5,393.7 L768.0,393.0 L768.5,392.3 L769.0,392.9 L769.5,392.6 L770.0,392.5 L770.5,392.7 L771.0,392.4 L771.5,393.1 L772.0,392.0 L772.5,392.8 L773.0,392.8 L773.5,392.3 L774.0,392.9 L774.5,394.1 L775.0,393.5 L775.5,392.8 L776.0,393.7 L776.5,393.9 L777.0,392.8 L777.5,393.2 L778.0,392.8 L778.5,393.3 L779.0,393.6 L779.5,392.8 L780.0,392.8 L780.5,392.8 L781.0,393.6 L781.5,392.9 L782.0,393.6 L782.5,394.3 L783.0,394.0 L783.5,393.6 L784.0,392.4 L784.5,392.9 L785.0,392.8 L785.5,393.2 L786.0,392.7 L786.5,392.6 L787.0,393.9 L787.5,393.7 L788.0,392.6 L788.5,393.9 L789.0,392.4 L789.5,392.6 L790.0,393.5 L790.5,393.6 L791.0,392.9 L791.5,393.3 L792.0,392.7 L792.5,393.4 L793.0,392.2 L793.5,392.3 L794.0,391.9 L794.5,392.9 L795.0,392.7 L795.5,393.1 L796.0,392.0 L796.5,392.9 L797.0,393.0 L797.5,392.7 L798.0,391.7 L798.5,391.4 L799.0,391.4 L799.5,391.7 L800.0,392.6 L800.5,391.6 L801.0,392.4 L801.5,391.8 L802.0,392.8 L802.5,391.7 L803.0,392.8 L803.5,392.6 L804.0,391.9 L804.5,392.6 L805.0,392.4 L805.5,392.5 L806.0,392.5 L806.5,391.9 L807.0,392.3 L807.5,393.0 L808.0,393.0 L808.5,393.0 L809.0,392.5 L809.5,392.5 L810.0,391.4 L810.5,393.1 L811.0,391.6 L811.5,392.9 L812.0,392.7 L812.5,392.1 L813.0,392.7 L813.5,393.2 L814.0,392.0 L814.5,393.1 L815.0,391.7 L815.5,392.8 L816.0,391.8 L816.5,393.0 L817.0,392.0 L817.5,392.8 L818.0,393.2 L818.5,392.1 L819.0,393.3 L819.5,392.4 L820.0,391.6 L820.5,392.8 L821.0,391.6 L821.5,392.1 L822.0,392.6 L822.5,392.5 L823.0,392.1 L823.5,391.5 L824.0,391.9 L824.5,391.3 L825.0,391.5 L825.5,391.6 L826.0,391.7 L826.5,391.2 L827.0,392.2 L827.5,391.2 L828.0,392.2 L828.5,392.1 L829.0,392.5 L829.5,392.5 L830.0,392.5 L830.5,393.0 L831.0,392.4 L831.5,392.9 L832.0,392.7 L832.5,393.1 L833.0,392.8 L833.5,392.5 L834.0,391.9 L834.5,392.2 L835.0,391.5 L835.5,392.5 L836.0,392.6 L836.5,392.9 L837.0,391.7 L837.5,391.9 L838.0,392.5 L838.5,392.6 L839.0,391.5 L839.5,391.5 L840.0,391.8 L840.5,392.1 L841.0,391.6 L841.5,391.7 L842.0,391.8 L842.5,391.6 L843.0,392.0 L843.5,391.7 L844.0,392.2 L844.5,392.6 L845.0,392.4" fill="none" stroke="#da9880" stroke-width="7.2" stroke-linejoin="round"/>
<path d="M123.5,561.8 L124.0,560.8 L124.5,560.8 L125.0,561.8 L125.5,561.7 L126.0,561.4 L126.5,561.6 L127.0,561.0 L127.5,561.1 L128.0,561.1 L128.5,561.8 L129.0,561.1 L129.5,560.6 L130.0,560.9 L130.5,561.3 L131.0,561.9 L131.5,561.8 L132.0,561.4 L132.5,561.6 L133.0,561.2 L133.5,561.4 L134.0,561.1 L134.5,560.9 L135.0,561.1 L135.5,561.3 L136.0,560.5 L136.5,561.0 L137.0,560.3 L137.5,560.3 L138.0,561.0 L138.5,560.3 L139.0,560.7 L139.5,560.4 L140.0,560.8 L140.5,560.2 L141.0,561.1 L141.5,561.6 L142.0,561.1 L142.5,561.0 L143.0,560.7 L143.5,560.6 L144.0,560.9 L144.5,560.7 L145.0,560.7 L145.5,561.1 L146.0,561.5 L146.5,561.1 L147.0,561.0 L147.5,560.4 L148.0,561.1 L148.5,560.9 L149.0,561.3 L149.5,561.4 L150.0,561.5 L150.5,560.4 L151.0,560.8 L151.5,560.7 L152.0,560.6 L152.5,561.1 L153.0,560.6 L153.5,560.5 L154.0,561.0 L154.5,560.4 L155.0,561.3 L155.5,560.6 L156.0,560.9 L156.5,561.1 L157.0,561.7 L157.5,561.1 L158.0,561.1 L158.5,561.5 L159.0,562.2 L159.5,562.4 L160.0,561.6 L160.5,561.7 L161.0,562.0 L161.5,562.1 L162.0,562.3 L162.5,562.2 L163.0,562.3 L163.5,561.7 L164.0,561.8 L164.5,562.4 L165.0,561.3 L165.5,561.4 L166.0,561.0 L166.5,562.2 L167.0,561.8 L167.5,561.8 L168.0,561.8 L168.5,562.3 L169.0,562.5 L169.5,562.4 L170.0,561.8 L170.5,562.4 L171.0,562.3 L171.5,563.2 L172.0,563.0 L172.5,562.7 L173.0,563.2 L173.5,563.1 L174.0,563.3 L174.5,563.9 L175.0,563.1 L175.5,563.4 L176.0,563.3 L176.5,563.8 L177.0,563.2 L177.5,563.8 L178.0,563.2 L178.5,563.8 L179.0,564.5 L179.5,564.1 L180.0,563.2 L180.5,564.6 L181.0,564.3 L181.5,564.7 L182.0,565.2 L182.5,565.0 L183.0,564.4 L183.5,564.5 L184.0,565.2 L184.5,564.9 L185.0,564.7 L185.5,565.0 L186.0,564.6 L186.5,564.5 L187.0,564.8 L187.5,565.3 L188.0,564.9 L188.5,564.7 L189.0,565.2 L189.5,564.9 L190.0,565.4 L190.5,565.0 L191.0,565.5 L191.5,565.1 L192.0,565.2 L192.5,565.2 L193.0,565.4 L193.5,565.3 L194.0,565.8 L194.5,565.4 L195.0,565.1 L195.5,565.5 L196.0,565.0 L196.5,565.7 L197.0,565.5 L197.5,564.9 L198.0,565.4 L198.5,564.8 L199.0,565.0 L199.5,565.2 L200.0,565.6 L200.5,565.8 L201.0,565.4 L201.5,565.9 L202.0,566.0 L202.5,566.3 L203.0,565.9 L203.5,565.6 L204.0,565.5 L204.5,566.0 L205.0,566.1 L205.5,565.9 L206.0,565.1 L206.5,564.9 L207.0,564.9 L207.5,565.4 L208.0,565.4 L208.5,564.8 L209.0,564.8 L209.5,565.0 L210.0,564.8 L210.5,564.8 L211.0,564.3 L211.5,564.0 L212.0,564.4 L212.5,564.2 L213.0,563.8 L213.5,564.4 L214.0,563.8 L214.5,563.3 L215.0,563.8 L215.5,562.4 L216.0,562.3 L216.5,562.4 L217.0,562.2 L217.5,561.8 L218.0,561.0 L218.5,561.4 L219.0,560.8 L219.5,561.1 L220.0,562.3 L220.5,561.9 L221.0,561.9 L221.5,562.2 L222.0,563.3 L222.5,563.4 L223.0,563.1 L223.5,563.8 L224.0,564.6 L224.5,564.0 L225.0,564.1 L225.5,565.1 L226.0,564.6 L226.5,565.0 L227.0,564.8 L227.5,564.5 L228.0,565.6 L228.5,565.8 L229.0,565.2 L229.5,565.3 L230.0,566.6 L230.5,565.8 L231.0,566.0 L231.5,566.2 L232.0,566.2 L232.5,566.2 L233.0,567.2 L233.5,566.3 L234.0,567.3 L234.5,567.2 L235.0,566.6 L235.5,566.8 L236.0,567.4 L236.5,567.2 L237.0,566.7 L237.5,566.5 L238.0,567.0 L238.5,566.7 L239.0,566.4 L239.5,566.6 L240.0,565.8 L240.5,566.0 L241.0,566.8 L241.5,566.1 L242.0,566.1 L242.5,566.4 L243.0,566.6 L243.5,566.5 L244.0,566.1 L244.5,565.8 L245.0,566.4 L245.5,565.8 L246.0,566.0 L246.5,566.0 L247.0,566.4 L247.5,566.6 L248.0,566.0 L248.5,565.3 L249.0,566.1 L249.5,565.8 L250.0,566.6 L250.5,566.0 L251.0,566.2 L251.5,566.1 L252.0,566.0 L252.5,566.2 L253.0,566.1 L253.5,566.4 L254.0,566.7 L254.5,567.1 L255.0,567.3 L255.5,567.0 L256.0,566.5 L256.5,566.3 L257.0,566.7 L257.5,566.2 L258.0,566.0 L258.5,566.6 L259.0,565.8 L259.5,566.6 L260.0,566.5 L260.5,566.4 L261.0,566.7 L261.5,565.7 L262.0,565.6 L262.5,565.7 L263.0,566.3 L263.5,564.9 L264.0,565.4 L264.5,565.8 L265.0,564.9 L265.5,565.7 L266.0,565.7 L266.5,565.6 L267.0,565.8 L267.5,566.1 L268.0,565.9 L268.5,565.9 L269.0,566.3 L269.5,565.9 L270.0,566.9 L270.5,566.3 L271.0,567.7 L271.5,567.5 L272.0,567.5 L272.5,567.6 L273.0,567.2 L273.5,566.5 L274.0,567.0 L274.5,567.2 L275.0,566.3 L275.5,567.1 L276.0,566.6 L276.5,566.5 L277.0,566.3 L277.5,566.4 L278.0,567.1 L278.5,567.3 L279.0,566.4 L279.5,567.3 L280.0,567.8 L280.5,567.6 L281.0,567.7 L281.5,567.4 L282.0,568.0 L282.5,567.8 L283.0,568.5 L283.5,568.3 L284.0,567.9 L284.5,568.5 L285.0,568.3 L285.5,567.5 L286.0,567.6 L286.5,567.4 L287.0,568.0 L287.5,567.3 L288.0,567.4 L288.5,567.7 L289.0,567.0 L289.5,566.7 L290.0,566.3 L290.5,566.4 L291.0,567.0 L291.5,566.7 L292.0,567.8 L292.5,566.8 L293.0,567.1 L293.5,567.0 L294.0,567.9 L294.5,567.8 L295.0,566.9 L295.5,566.9 L296.0,567.0 L296.5,567.7 L297.0,567.8 L297.5,567.5 L298.0,567.3 L298.5,567.0 L299.0,567.0 L299.5,566.4 L300.0,567.1 L300.5,566.9 L301.0,566.8 L301.5,566.0 L302.0,565.7 L302.5,566.4 L303.0,566.6 L303.5,566.2 L304.0,566.4 L304.5,566.3 L305.0,566.7 L305.5,566.6 L306.0,566.5 L306.5,566.9 L307.0,566.3 L307.5,566.9 L308.0,567.3 L308.5,567.1 L309.0,567.4 L309.5,567.5 L310.0,567.6 L310.5,567.2 L311.0,567.7 L311.5,567.2 L312.0,567.0 L312.5,566.6 L313.0,567.0 L313.5,566.3 L314.0,566.4 L314.5,566.0 L315.0,566.0 L315.5,566.5 L316.0,565.8 L316.5,566.7 L317.0,566.8 L317.5,566.3 L318.0,566.7 L318.5,567.1 L319.0,566.3 L319.5,566.7 L320.0,566.2 L320.5,566.7 L321.0,566.9 L321.5,566.6 L322.0,567.5 L322.5,566.8 L323.0,566.3 L323.5,566.1 L324.0,567.0 L324.5,567.1 L325.0,566.5 L325.5,566.3 L326.0,566.8 L326.5,566.2 L327.0,567.1 L327.5,565.9 L328.0,565.9 L328.5,566.2 L329.0,566.2 L329.5,565.8 L330.0,566.0 L330.5,566.9 L331.0,566.4 L331.5,565.3 L332.0,566.2 L332.5,565.7 L333.0,566.2 L333.5,565.2 L334.0,565.5 L334.5,565.9 L335.0,565.6 L335.5,565.5 L336.0,565.8 L336.5,565.9 L337.0,565.5 L337.5,566.0 L338.0,565.8 L338.5,565.6 L339.0,565.0 L339.5,564.1 L340.0,564.2 L340.5,562.7 L341.0,561.4 L341.5,560.5 L342.0,558.6 L342.5,556.4 L343.0,555.2 L343.5,553.4 L344.0,550.1 L344.5,548.0 L345.0,545.0 L345.5,543.2 L346.0,541.0 L346.5,538.9 L347.0,536.8 L347.5,537.0 L348.0,536.5 L348.5,536.9 L349.0,538.2 L349.5,540.1 L350.0,541.1 L350.5,543.8 L351.0,545.2 L351.5,547.9 L352.0,550.0 L352.5,552.4 L353.0,555.5 L353.5,557.6 L354.0,558.6 L354.5,559.8 L355.0,561.1 L355.5,563.0 L356.0,563.1 L356.5,563.6 L357.0,564.7 L357.5,564.8 L358.0,565.2 L358.5,566.3 L359.0,566.4 L359.5,565.6 L360.0,566.7 L360.5,566.1 L361.0,565.7 L361.5,566.6 L362.0,566.2 L362.5,566.5 L363.0,566.7 L363.5,565.8 L364.0,567.4 L364.5,566.7 L365.0,566.0 L365.5,566.2 L366.0,565.8 L366.5,567.2 L367.0,566.8 L367.5,566.6 L368.0,567.3 L368.5,567.4 L369.0,566.9 L369.5,566.4 L370.0,566.2 L370.5,567.2 L371.0,566.9 L371.5,566.4 L372.0,566.7 L372.5,566.9 L373.0,566.6 L373.5,567.3 L374.0,566.5 L374.5,566.6 L375.0,566.5 L375.5,565.8 L376.0,566.0 L376.5,566.0 L377.0,566.4 L377.5,566.6 L378.0,567.1 L378.5,566.9 L379.0,566.5 L379.5,566.0 L380.0,565.7 L380.5,566.3 L381.0,565.9 L381.5,566.5 L382.0,566.4 L382.5,565.8 L383.0,566.5 L383.5,565.4 L384.0,565.7 L384.5,566.4 L385.0,565.9 L385.5,566.0 L386.0,566.1 L386.5,565.3 L387.0,566.0 L387.5,565.1 L388.0,564.7 L388.5,564.5 L389.0,564.6 L389.5,565.0 L390.0,564.8 L390.5,565.1 L391.0,564.0 L391.5,564.3 L392.0,563.5 L392.5,563.0 L393.0,563.0 L393.5,562.2 L394.0,562.4 L394.5,561.0 L395.0,560.2 L395.5,560.1 L396.0,558.7 L396.5,556.3 L397.0,554.9 L397.5,552.7 L398.0,549.5 L398.5,546.9 L399.0,543.9 L399.5,540.0 L400.0,534.6 L400.5,529.7 L401.0,524.0 L401.5,518.4 L402.0,511.2 L402.5,505.3 L403.0,497.6 L403.5,491.7 L404.0,485.7 L404.5,480.4 L405.0,476.0 L405.5,473.6 L406.0,472.4 L406.5,472.8 L407.0,475.9 L407.5,480.4 L408.0,485.6 L408.5,492.2 L409.0,498.6 L409.5,505.1 L410.0,512.0 L410.5,518.4 L411.0,523.7 L411.5,530.0 L412.0,535.5 L412.5,540.1 L413.0,543.8 L413.5,547.7 L414.0,550.4 L414.5,552.8 L415.0,554.6 L415.5,557.0 L416.0,558.7 L416.5,559.7 L417.0,559.8 L417.5,561.2 L418.0,562.0 L418.5,563.0 L419.0,562.4 L419.5,563.8 L420.0,563.6 L420.5,564.5 L421.0,564.2 L421.5,563.7 L422.0,564.9 L422.5,564.8 L423.0,564.7 L423.5,564.5 L424.0,565.2 L424.5,565.6 L425.0,565.5 L425.5,565.3 L426.0,565.6 L426.5,566.3 L427.0,566.4 L427.5,566.8 L428.0,566.8 L428.5,566.5 L429.0,567.3 L429.5,566.8 L430.0,566.5 L430.5,567.0 L431.0,567.2 L431.5,566.7 L432.0,567.4 L432.5,566.6 L433.0,566.2 L433.5,567.1 L434.0,566.4 L434.5,566.6 L435.0,566.5 L435.5,566.5 L436.0,566.8 L436.5,566.2 L437.0,566.8 L437.5,566.4 L438.0,567.0 L438.5,567.8 L439.0,567.8 L439.5,567.9 L440.0,567.5 L440.5,566.9 L441.0,567.3 L441.5,567.8 L442.0,567.1 L442.5,567.9 L443.0,567.5 L443.5,568.4 L444.0,567.8 L444.5,567.5 L445.0,567.2 L445.5,567.4 L446.0,567.9 L446.5,567.4 L447.0,567.8 L447.5,567.3 L448.0,566.7 L448.5,567.4 L449.0,567.4 L449.5,567.4 L450.0,567.1 L450.5,566.9 L451.0,567.0 L451.5,566.9 L452.0,567.3 L452.5,567.2 L453.0,567.4 L453.5,568.0 L454.0,567.9 L454.5,567.7 L455.0,568.0 L455.5,567.8 L456.0,567.2 L456.5,567.6 L457.0,567.6 L457.5,567.4 L458.0,567.7 L458.5,567.5 L459.0,567.6 L459.5,566.9 L460.0,568.0 L460.5,567.4 L461.0,567.2 L461.5,567.4 L462.0,567.1 L462.5,567.0 L463.0,567.9 L463.5,567.7 L464.0,568.2 L464.5,567.7 L465.0,567.9 L465.5,568.2 L466.0,567.4 L466.5,567.9 L467.0,567.5 L467.5,567.5 L468.0,567.5 L468.5,567.9 L469.0,567.8 L469.5,568.2 L470.0,568.0 L470.5,568.3 L471.0,568.2 L471.5,567.7 L472.0,567.3 L472.5,567.7 L473.0,566.9 L473.5,567.6 L474.0,567.6 L474.5,568.0 L475.0,567.9 L475.5,567.1 L476.0,567.9 L476.5,566.7 L477.0,567.3 L477.5,566.7 L478.0,566.5 L478.5,566.8 L479.0,566.6 L479.5,566.0 L480.0,566.6 L480.5,565.5 L481.0,565.8 L481.5,564.8 L482.0,564.2 L482.5,563.2 L483.0,563.6 L483.5,561.9 L484.0,561.6 L484.5,560.3 L485.0,559.1 L485.5,557.5 L486.0,556.6 L486.5,554.8 L487.0,554.5 L487.5,553.5 L488.0,552.0 L488.5,551.5 L489.0,550.7 L489.5,551.1 L490.0,550.6 L490.5,550.9 L491.0,551.9 L491.5,553.8 L492.0,554.7 L492.5,555.5 L493.0,557.2 L493.5,557.9 L494.0,559.5 L494.5,561.6 L495.0,561.6 L495.5,563.7 L496.0,564.9 L496.5,564.5 L497.0,566.3 L497.5,567.1 L498.0,566.5 L498.5,567.3 L499.0,567.6 L499.5,567.9 L500.0,568.1 L500.5,568.4 L501.0,567.8 L501.5,568.4 L502.0,568.6 L502.5,569.2 L503.0,569.2 L503.5,569.5 L504.0,569.4 L504.5,569.7 L505.0,569.2 L505.5,568.9 L506.0,568.3 L506.5,569.3 L507.0,569.0 L507.5,568.6 L508.0,569.0 L508.5,569.6 L509.0,569.0 L509.5,568.4 L510.0,569.1 L510.5,568.5 L511.0,567.9 L511.5,567.9 L512.0,569.1 L512.5,568.1 L513.0,569.0 L513.5,568.1 L514.0,568.4 L514.5,568.1 L515.0,568.3 L515.5,568.0 L516.0,568.7 L516.5,569.7 L517.0,569.4 L517.5,569.2 L518.0,570.1 L518.5,570.3 L519.0,569.7 L519.5,569.6 L520.0,569.4 L520.5,569.3 L521.0,569.9 L521.5,569.8 L522.0,570.8 L522.5,570.2 L523.0,569.7 L523.5,569.8 L524.0,569.2 L524.5,570.0 L525.0,569.5 L525.5,569.7 L526.0,569.1 L526.5,569.5 L527.0,569.6 L527.5,569.3 L528.0,569.0 L528.5,569.4 L529.0,569.9 L529.5,569.4 L530.0,570.0 L530.5,569.4 L531.0,570.0 L531.5,569.0 L532.0,569.9 L532.5,569.8 L533.0,569.5 L533.5,570.1 L534.0,568.8 L534.5,569.3 L535.0,568.9 L535.5,569.5 L536.0,569.1 L536.5,568.6 L537.0,568.5 L537.5,568.3 L538.0,568.7 L538.5,569.5 L539.0,569.3 L539.5,569.3 L540.0,568.8 L540.5,569.2 L541.0,569.4 L541.5,569.7 L542.0,568.7 L542.5,569.0 L543.0,569.9 L543.5,569.1 L544.0,570.1 L544.5,569.2 L545.0,570.1 L545.5,569.3 L546.0,569.4 L546.5,569.8 L547.0,570.1 L547.5,570.4 L548.0,570.0 L548.5,570.6 L549.0,570.6 L549.5,570.8 L550.0,569.8 L550.5,570.0 L551.0,569.4 L551.5,569.7 L552.0,569.6 L552.5,569.0 L553.0,570.1 L553.5,569.4 L554.0,569.4 L554.5,569.3 L555.0,569.0 L555.5,570.1 L556.0,569.9 L556.5,570.0 L557.0,569.8 L557.5,570.7 L558.0,570.0 L558.5,570.3 L559.0,570.3 L559.5,570.7 L560.0,570.5 L560.5,570.2 L561.0,569.2 L561.5,570.3 L562.0,570.2 L562.5,569.6 L563.0,569.8 L563.5,570.0 L564.0,569.9 L564.5,569.6 L565.0,569.7 L565.5,569.8 L566.0,569.8 L566.5,568.9 L567.0,569.1 L567.5,569.0 L568.0,569.5 L568.5,568.8 L569.0,569.5 L569.5,569.9 L570.0,570.3 L570.5,568.8 L571.0,569.6 L571.5,569.1 L572.0,570.1 L572.5,569.1 L573.0,569.1 L573.5,569.7 L574.0,569.1 L574.5,570.2 L575.0,569.5 L575.5,570.1 L576.0,570.4 L576.5,569.7 L577.0,569.7 L577.5,570.7 L578.0,569.7 L578.5,570.5 L579.0,570.4 L579.5,569.4 L580.0,569.8 L580.5,570.0 L581.0,569.4 L581.5,570.2 L582.0,570.2 L582.5,570.0 L583.0,570.2 L583.5,569.7 L584.0,570.0 L584.5,569.3 L585.0,569.2 L585.5,569.5 L586.0,569.1 L586.5,569.1 L587.0,569.4 L587.5,569.7 L588.0,569.6 L588.5,570.1 L589.0,570.2 L589.5,570.2 L590.0,570.3 L590.5,569.8 L591.0,569.8 L591.5,570.4 L592.0,569.8 L592.5,570.3 L593.0,570.2 L593.5,570.3 L594.0,570.0 L594.5,569.8 L595.0,569.0 L595.5,568.4 L596.0,569.3 L596.5,569.2 L597.0,568.6 L597.5,568.5 L598.0,567.2 L598.5,567.2 L599.0,566.5 L599.5,565.9 L600.0,564.7 L600.5,563.6 L601.0,563.8 L601.5,562.8 L602.0,561.4 L602.5,561.7 L603.0,561.3 L603.5,560.3 L604.0,560.8 L604.5,560.3 L605.0,561.0 L605.5,561.3 L606.0,562.7 L606.5,563.5 L607.0,564.0 L607.5,564.1 L608.0,565.9 L608.5,566.2 L609.0,566.7 L609.5,567.6 L610.0,567.5 L610.5,568.4 L611.0,568.2 L611.5,568.9 L612.0,568.8 L612.5,568.9 L613.0,568.7 L613.5,569.0 L614.0,569.3 L614.5,569.7 L615.0,569.4 L615.5,569.6 L616.0,568.6 L616.5,569.0 L617.0,568.9 L617.5,570.2 L618.0,569.3 L618.5,569.8 L619.0,569.8 L619.5,569.4 L620.0,570.3 L620.5,570.3 L621.0,569.5 L621.5,569.4 L622.0,569.8 L622.5,569.9 L623.0,570.1 L623.5,570.1 L624.0,570.3 L624.5,570.0 L625.0,569.4 L625.5,569.8 L626.0,569.1 L626.5,569.6 L627.0,569.0 L627.5,568.5 L628.0,569.3 L628.5,568.6 L629.0,569.3 L629.5,569.1 L630.0,569.2 L630.5,568.9 L631.0,569.1 L631.5,569.0 L632.0,568.5 L632.5,568.2 L633.0,568.3 L633.5,567.9 L634.0,567.6 L634.5,567.0 L635.0,566.3 L635.5,565.0 L636.0,563.9 L636.5,562.3 L637.0,560.5 L637.5,559.1 L638.0,556.3 L638.5,554.1 L639.0,551.9 L639.5,550.2 L640.0,547.4 L640.5,545.0 L641.0,544.3 L641.5,542.4 L642.0,542.1 L642.5,541.5 L643.0,542.1 L643.5,543.5 L644.0,544.4 L644.5,547.2 L645.0,548.5 L645.5,551.9 L646.0,553.8 L646.5,556.0 L647.0,557.5 L647.5,560.1 L648.0,561.3 L648.5,562.8 L649.0,563.8 L649.5,564.9 L650.0,566.5 L650.5,567.3 L651.0,567.2 L651.5,568.2 L652.0,568.6 L652.5,568.4 L653.0,568.5 L653.5,568.9 L654.0,568.8 L654.5,569.7 L655.0,569.3 L655.5,569.5 L656.0,569.3 L656.5,570.4 L657.0,569.4 L657.5,570.3 L658.0,570.5 L658.5,570.0 L659.0,570.9 L659.5,569.8 L660.0,570.2 L660.5,570.4 L661.0,570.7 L661.5,570.4 L662.0,570.7 L662.5,570.8 L663.0,569.5 L663.5,570.3 L664.0,570.0 L664.5,570.3 L665.0,570.0 L665.5,570.1 L666.0,569.6 L666.5,570.0 L667.0,570.4 L667.5,570.1 L668.0,570.0 L668.5,570.3 L669.0,570.0 L669.5,570.7 L670.0,570.3 L670.5,570.3 L671.0,570.3 L671.5,570.8 L672.0,570.3 L672.5,570.6 L673.0,569.4 L673.5,570.8 L674.0,569.6 L674.5,570.4 L675.0,569.4 L675.5,570.7 L676.0,570.1 L676.5,570.2 L677.0,570.0 L677.5,570.0 L678.0,569.8 L678.5,569.6 L679.0,570.2 L679.5,569.6 L680.0,569.3 L680.5,569.2 L681.0,569.2 L681.5,569.4 L682.0,569.9 L682.5,570.2 L683.0,569.9 L683.5,569.8 L684.0,568.8 L684.5,569.8 L685.0,569.8 L685.5,570.2 L686.0,569.8 L686.5,569.9 L687.0,570.4 L687.5,569.3 L688.0,569.9 L688.5,569.6 L689.0,569.7 L689.5,569.2 L690.0,568.9 L690.5,569.0 L691.0,569.4 L691.5,568.6 L692.0,569.3 L692.5,567.9 L693.0,568.4 L693.5,567.5 L694.0,566.7 L694.5,566.0 L695.0,565.4 L695.5,564.2 L696.0,562.5 L696.5,560.9 L697.0,559.9 L697.5,557.2 L698.0,555.2 L698.5,552.8 L699.0,549.6 L699.5,547.5 L700.0,543.6 L700.5,540.4 L701.0,537.7 L701.5,535.5 L702.0,533.2 L702.5,532.8 L703.0,532.1 L703.5,531.6 L704.0,533.7 L704.5,534.8 L705.0,536.7 L705.5,539.6 L706.0,541.8 L706.5,544.1 L707.0,547.9 L707.5,551.0 L708.0,552.7 L708.5,556.0 L709.0,558.3 L709.5,561.3 L710.0,562.0 L710.5,564.4 L711.0,564.9 L711.5,566.6 L712.0,567.4 L712.5,568.1 L713.0,567.9 L713.5,569.2 L714.0,569.2 L714.5,569.8 L715.0,570.2 L715.5,570.0 L716.0,570.9 L716.5,570.4 L717.0,570.1 L717.5,570.3 L718.0,569.9 L718.5,570.2 L719.0,570.9 L719.5,571.1 L720.0,571.0 L720.5,571.3 L721.0,571.4 L721.5,571.0 L722.0,570.3 L722.5,570.9 L723.0,570.2 L723.5,571.1 L724.0,570.6 L724.5,571.6 L725.0,570.3 L725.5,571.3 L726.0,570.8 L726.5,570.9 L727.0,570.5 L727.5,571.0 L728.0,570.9 L728.5,570.9 L729.0,571.3 L729.5,570.3 L730.0,571.2 L730.5,570.5 L731.0,570.6 L731.5,570.6 L732.0,570.3 L732.5,570.3 L733.0,570.9 L733.5,570.4 L734.0,570.8 L734.5,569.6 L735.0,570.3 L735.5,570.2 L736.0,569.5 L736.5,569.2 L737.0,570.1 L737.5,570.2 L738.0,569.8 L738.5,569.4 L739.0,570.5 L739.5,570.4 L740.0,570.5 L740.5,570.9 L741.0,570.5 L741.5,571.1 L742.0,570.8 L742.5,570.9 L743.0,571.2 L743.5,571.4 L744.0,571.9 L744.5,571.2 L745.0,571.0 L745.5,571.3 L746.0,571.3 L746.5,571.1 L747.0,571.3 L747.5,571.0 L748.0,571.1 L748.5,570.4 L749.0,571.1 L749.5,570.8 L750.0,571.3 L750.5,570.9 L751.0,571.2 L751.5,571.1 L752.0,570.3 L752.5,570.2 L753.0,570.8 L753.5,570.2 L754.0,571.1 L754.5,571.0 L755.0,570.6 L755.5,570.8 L756.0,569.9 L756.5,570.5 L757.0,570.8 L757.5,569.8 L758.0,571.0 L758.5,570.6 L759.0,570.7 L759.5,571.4 L760.0,571.3 L760.5,570.6 L761.0,571.8 L761.5,570.3 L762.0,571.1 L762.5,570.7 L763.0,571.3 L763.5,570.2 L764.0,571.0 L764.5,571.3 L765.0,570.9 L765.5,571.6 L766.0,571.9 L766.5,571.9 L767.0,571.2 L767.5,571.6 L768.0,572.0 L768.5,571.2 L769.0,571.8 L769.5,571.5 L770.0,572.3 L770.5,572.0 L771.0,571.8 L771.5,570.7 L772.0,571.2 L772.5,570.8 L773.0,570.5 L773.5,570.9 L774.0,571.1 L774.5,570.7 L775.0,570.6 L775.5,570.2 L776.0,570.5 L776.5,570.5 L777.0,571.0 L777.5,570.8 L778.0,570.4 L778.5,570.4 L779.0,570.1 L779.5,570.4 L780.0,569.8 L780.5,571.1 L781.0,570.2 L781.5,569.8 L782.0,570.3 L782.5,571.1 L783.0,570.5 L783.5,570.3 L784.0,571.2 L784.5,571.0 L785.0,570.4 L785.5,570.1 L786.0,570.3 L786.5,570.3 L787.0,571.0 L787.5,570.4 L788.0,571.0 L788.5,571.1 L789.0,571.0 L789.5,570.3 L790.0,570.4 L790.5,570.9 L791.0,570.8 L791.5,571.2 L792.0,571.2 L792.5,570.7 L793.0,571.3 L793.5,571.1 L794.0,571.4 L794.5,570.5 L795.0,571.6 L795.5,571.5 L796.0,570.6 L796.5,570.9 L797.0,571.0 L797.5,571.0 L798.0,571.6 L798.5,571.9 L799.0,571.5 L799.5,570.8 L800.0,571.8 L800.5,571.8 L801.0,570.6 L801.5,571.2 L802.0,571.2 L802.5,571.3 L803.0,571.5 L803.5,570.6 L804.0,570.9 L804.5,571.0 L805.0,571.5 L805.5,570.6 L806.0,570.6 L806.5,570.7 L807.0,570.6 L807.5,570.9 L808.0,570.8 L808.5,571.2 L809.0,570.8 L809.5,571.2 L810.0,570.4 L810.5,571.0 L811.0,570.7 L811.5,570.2 L812.0,570.2 L812.5,570.1 L813.0,570.3 L813.5,570.3 L814.0,569.5 L814.5,569.9 L815.0,570.5 L815.5,569.6 L816.0,570.6 L816.5,570.0 L817.0,569.6 L817.5,570.3 L818.0,569.7 L818.5,570.6 L819.0,570.6 L819.5,570.2 L820.0,569.8 L820.5,568.5 L821.0,568.0 L821.5,568.0 L822.0,567.3 L822.5,567.0 L823.0,566.6 L823.5,566.3 L824.0,566.0 L824.5,566.0 L825.0,565.4 L825.5,565.2 L826.0,564.3 L826.5,564.3 L827.0,564.9 L827.5,565.4 L828.0,564.7 L828.5,564.2 L829.0,564.3 L829.5,564.3 L830.0,565.1 L830.5,564.7 L831.0,565.1 L831.5,565.3 L832.0,565.3 L832.5,565.5 L833.0,564.6 L833.5,564.5 L834.0,564.5 L834.5,564.4 L835.0,565.4 L835.5,564.5 L836.0,565.0 L836.5,564.8 L837.0,565.1 L837.5,564.8 L838.0,565.3" fill="none" stroke="#ae4f5f" stroke-width="7.0" stroke-linejoin="round"/>
<line x1="503.6" y1="380.5" x2="503.6" y2="403.3" stroke="#9a8f8a" stroke-width="3.2"/>
<line x1="725.6" y1="388.5" x2="725.6" y2="402.6" stroke="#3a2018" stroke-width="2.6"/>
</g>
<g id="panelB-data">
<path d="M1036.0,232.0 L1038.0,228.8 L1040.0,225.6 L1042.0,222.4 L1044.0,219.2 L1046.0,215.9 L1048.0,212.6 L1050.0,209.2 L1052.0,205.8 L1054.0,202.3 L1056.0,198.9 L1058.0,195.5 L1060.0,192.2 L1062.0,189.0 L1064.0,185.9 L1066.0,182.8 L1068.0,179.7 L1070.0,176.8 L1072.0,173.8 L1074.0,170.8 L1076.0,168.0 L1078.0,165.3 L1080.0,162.7 L1082.0,160.3 L1084.0,157.9 L1086.0,155.6 L1088.0,153.6 L1090.0,151.7 L1092.0,150.0 L1094.0,148.4 L1096.0,146.9 L1098.0,145.5 L1100.0,144.3 L1102.0,143.1 L1104.0,142.0 L1106.0,141.0 L1108.0,140.3 L1110.0,139.7 L1112.0,139.1 L1114.0,138.7 L1116.0,138.3 L1118.0,138.0 L1120.0,137.8 L1122.0,137.6 L1124.0,137.4 L1126.0,137.3 L1128.0,137.2 L1130.0,137.2 L1132.0,137.2 L1134.0,137.4 L1136.0,137.5 L1138.0,137.8 L1140.0,138.1 L1142.0,138.3 L1144.0,138.8 L1146.0,139.4 L1148.0,140.0 L1150.0,140.8 L1152.0,141.6 L1154.0,142.6 L1156.0,143.7 L1158.0,144.9 L1160.0,146.2 L1162.0,147.4 L1164.0,148.7 L1166.0,150.0 L1168.0,151.4 L1170.0,152.8 L1172.0,154.2 L1174.0,155.7 L1176.0,157.2 L1178.0,158.7 L1180.0,160.2 L1182.0,161.8 L1184.0,163.3 L1186.0,164.8 L1188.0,166.4 L1190.0,168.0 L1192.0,169.6 L1194.0,171.2 L1196.0,172.9 L1198.0,174.5 L1200.0,176.1 L1202.0,177.8 L1204.0,179.5 L1206.0,181.2 L1208.0,182.9 L1210.0,184.6 L1212.0,186.3 L1214.0,188.0 L1216.0,189.7 L1218.0,191.5 L1220.0,193.2 L1222.0,194.9 L1224.0,196.6 L1226.0,198.3 L1228.0,200.0 L1230.0,201.7 L1232.0,203.5 L1234.0,205.2 L1236.0,206.8 L1238.0,208.5 L1240.0,210.1 L1242.0,211.8 L1244.0,213.4 L1246.0,215.0 L1248.0,216.6 L1250.0,218.2 L1252.0,219.6 L1254.0,221.0 L1256.0,222.3 L1258.0,223.6 L1260.0,224.8 L1262.0,225.9 L1264.0,226.8 L1266.0,227.6 L1268.0,228.3 L1270.0,229.0 L1272.0,229.6 L1274.0,230.1 L1276.0,230.5 L1278.0,230.8 L1280.0,231.1 L1282.0,231.3 L1284.0,231.5 L1286.0,231.7 L1288.0,231.8 L1290.0,232.0 L1292.0,232.1 L1294.0,232.2 L1296.0,232.3 L1298.0,232.3 L1300.0,232.4 L1302.0,232.4 L1304.0,232.5 L1306.0,232.5 L1308.0,232.6 L1310.0,232.6 L1312.0,232.6 L1314.0,232.7 L1316.0,232.7 L1318.0,232.7 L1320.0,232.7 L1322.0,232.8 L1324.0,232.8 L1326.0,232.8 L1328.0,232.8 L1330.0,232.8 L1332.0,232.9 L1334.0,232.9 L1336.0,232.9 L1338.0,232.9 L1340.0,232.9 L1342.0,232.9 L1344.0,232.9 L1346.0,232.9 L1348.0,232.9 L1350.0,232.9 L1352.0,232.9 L1354.0,232.9 L1356.0,232.9 L1358.0,232.9 L1360.0,232.9 L1362.0,233.0 L1364.0,233.0 L1366.0,233.0 L1368.0,233.0 L1370.0,233.0 L1372.0,233.0 L1374.0,233.0 L1376.0,233.0 L1378.0,233.0 L1380.0,233.0 L1382.0,233.0 L1384.0,233.0 L1386.0,233.0 L1388.0,233.0 L1390.0,233.0 L1392.0,233.0 L1394.0,233.0 L1396.0,233.0 L1398.0,233.0 L1400.0,233.0 L1402.0,233.0 L1404.0,233.0 L1406.0,233.0 L1408.0,233.0 L1410.0,233.0 L1412.0,233.0 L1414.0,233.0 L1416.0,233.0 L1418.0,233.0 L1420.0,233.0 L1422.0,233.0 L1424.0,233.0 L1426.0,233.0 L1428.0,233.0 L1430.0,233.0 L1432.0,233.1 L1434.0,233.1 L1436.0,233.1 L1438.0,233.1 L1440.0,233.1 L1442.0,233.1 L1444.0,233.1 L1446.0,233.1 L1448.0,233.1 L1450.0,233.1 L1452.0,233.1 L1454.0,233.1 L1456.0,233.1 L1458.0,233.1 L1460.0,233.1 L1462.0,233.1 L1464.0,233.1 L1466.0,233.1 L1468.0,233.1 L1470.0,233.1 L1472.0,233.1 L1474.0,233.1 L1476.0,233.1 L1478.0,233.1 L1480.0,233.1 L1482.0,233.1 L1484.0,233.1 L1486.0,233.1 L1488.0,233.1 L1490.0,233.1 L1492.0,233.1 L1494.0,233.1 L1496.0,233.1 L1498.0,233.1 L1500.0,233.1 L1502.0,233.1 L1504.0,233.1 L1506.0,233.1 L1508.0,233.1 L1510.0,233.1 L1512.0,233.1 L1514.0,233.1 L1516.0,233.1 L1518.0,233.1 L1520.0,233.1 L1522.0,233.1 L1524.0,233.1 L1526.0,233.1 L1528.0,233.1 L1530.0,233.1 L1532.0,233.1 L1534.0,233.1 L1536.0,233.1 L1538.0,233.1 L1540.0,233.1 L1542.0,233.1 L1544.0,233.1 L1546.0,233.1 L1548.0,233.1 L1550.0,233.1 L1552.0,233.1 L1554.0,233.1 L1556.0,233.1 L1558.0,233.1 L1560.0,233.1 L1562.0,233.1 L1564.0,233.1 L1566.0,233.1 L1568.0,233.2 L1570.0,233.2 L1572.0,233.2 L1574.0,233.2 L1576.0,233.2 L1578.0,233.2 L1580.0,233.2 L1582.0,233.2 L1584.0,233.2 L1586.0,233.2 L1588.0,233.2 L1590.0,233.2 L1592.0,233.2 L1594.0,233.2 L1596.0,233.2 L1598.0,233.2 L1600.0,233.2 L1602.0,233.2 L1604.0,233.2 L1606.0,233.2 L1608.0,233.2 L1610.0,233.2 L1612.0,233.2 L1614.0,233.2 L1616.0,233.2 L1618.0,233.2 L1620.0,233.2 L1622.0,233.2 L1624.0,233.2 L1626.0,233.2 L1628.0,233.2 L1630.0,233.2 L1632.0,233.2 L1634.0,233.2 L1636.0,233.2 L1638.0,233.2 L1640.0,233.2 L1642.0,233.2 L1644.0,233.2 L1646.0,233.2 L1648.0,233.2 L1650.0,233.2 L1652.0,233.2 L1654.0,233.2 L1656.0,233.2 L1658.0,233.2 L1660.0,233.2 L1662.0,233.2 L1664.0,233.2 L1666.0,233.2 L1668.0,233.2 L1670.0,233.2 L1672.0,233.2 L1674.0,233.2 L1676.0,233.2 L1678.0,233.2 L1680.0,233.2 L1682.0,233.2 L1684.0,233.2 L1686.0,233.2 L1688.0,233.2 L1690.0,233.2 L1692.0,233.2 L1694.0,233.2 L1696.0,233.2 L1698.0,233.2 L1700.0,233.2 L1702.0,233.2 L1704.0,233.2 L1706.0,233.2 L1708.0,233.2 L1710.0,233.2 L1712.0,233.2 L1714.0,233.2 L1716.0,233.2 L1718.0,233.2 L1720.0,233.2 L1722.0,233.2 L1724.0,233.2 L1726.0,233.3 L1728.0,233.3 L1730.0,233.3 L1732.0,233.3 L1734.0,233.3 L1736.0,233.3 L1738.0,233.3 L1740.0,233.3 L1742.0,233.3 L1744.0,233.3 L1746.0,233.3 L1748.0,233.3 L1750.0,233.3 L1752.0,233.3 L1754.0,233.3 L1756.0,233.3 L1758.0,233.3 L1760.0,233.3 L1762.0,233.3 L1764.0,233.3 L1766.0,233.3 L1768.0,233.3 L1770.0,233.3 L1772.0,233.3 L1774.0,233.3 L1776.0,233.3 L1778.0,233.3 L1780.0,233.3 L1782.0,233.3 L1784.0,233.3 L1786.0,233.3 L1788.0,233.3 L1790.0,233.3 L1792.0,233.3 L1794.0,233.3 L1796.0,233.3 L1798.0,233.3 L1800.0,233.3 L1802.0,233.3 L1804.0,233.3 L1806.0,233.3 L1808.0,233.3 L1810.0,233.3 L1812.0,233.3 L1814.0,233.3 L1816.0,233.3 L1818.0,233.3 L1820.0,233.3 L1822.0,233.3 L1824.0,233.3 L1826.0,233.3 L1828.0,233.3 L1830.0,233.3 L1832.0,233.3 L1834.0,233.3 L1836.0,233.3 L1838.0,233.3 L1840.0,233.3 L1842.0,233.3 L1844.0,233.3 L1846.0,233.3 L1848.0,233.3 L1850.0,233.3 L1852.0,233.3 L1854.0,233.3 L1856.0,233.3 L1858.0,233.3 L1860.0,233.3 L1862.0,233.3 L1864.0,233.3 L1866.0,233.3 L1868.0,233.3 L1870.0,233.3 L1872.0,233.3 L1874.0,233.3 L1876.0,233.3 L1878.0,233.3 L1880.0,233.3 L1882.0,233.3 L1884.0,233.3 L1886.0,233.3 L1888.0,233.3 L1890.0,233.3 L1892.0,233.3 L1894.0,233.3 L1896.0,233.3 L1898.0,233.3 L1900.0,233.3 L1902.0,233.3 L1904.0,233.3 L1906.0,233.3" fill="none" stroke="#e4bb9e" stroke-width="6.4" stroke-linejoin="round"/>
<path d="M1036.0,398.8 L1038.0,398.8 L1040.0,398.8 L1042.0,398.8 L1044.0,398.8 L1046.0,398.8 L1048.0,398.8 L1050.0,398.8 L1052.0,398.8 L1054.0,398.8 L1056.0,398.8 L1058.0,398.8 L1060.0,398.8 L1062.0,398.8 L1064.0,398.8 L1066.0,398.8 L1068.0,398.8 L1070.0,398.8 L1072.0,398.8 L1074.0,398.8 L1076.0,398.7 L1078.0,398.7 L1080.0,398.7 L1082.0,398.7 L1084.0,398.7 L1086.0,398.7 L1088.0,398.7 L1090.0,398.7 L1092.0,398.7 L1094.0,398.7 L1096.0,398.7 L1098.0,398.7 L1100.0,398.6 L1102.0,398.6 L1104.0,398.6 L1106.0,398.6 L1108.0,398.6 L1110.0,398.6 L1112.0,398.6 L1114.0,398.5 L1116.0,398.5 L1118.0,398.5 L1120.0,398.5 L1122.0,398.5 L1124.0,398.5 L1126.0,398.4 L1128.0,398.4 L1130.0,398.4 L1132.0,398.4 L1134.0,398.4 L1136.0,398.3 L1138.0,398.3 L1140.0,398.2 L1142.0,398.1 L1144.0,397.8 L1146.0,397.5 L1148.0,397.1 L1150.0,396.7 L1152.0,396.2 L1154.0,395.7 L1156.0,395.1 L1158.0,394.6 L1160.0,394.0 L1162.0,393.4 L1164.0,392.6 L1166.0,391.8 L1168.0,391.0 L1170.0,390.1 L1172.0,389.1 L1174.0,388.1 L1176.0,387.0 L1178.0,385.9 L1180.0,384.7 L1182.0,383.4 L1184.0,382.0 L1186.0,380.5 L1188.0,378.9 L1190.0,377.3 L1192.0,375.5 L1194.0,373.7 L1196.0,371.7 L1198.0,369.6 L1200.0,367.4 L1202.0,365.1 L1204.0,362.6 L1206.0,360.1 L1208.0,357.5 L1210.0,354.6 L1212.0,351.7 L1214.0,348.7 L1216.0,345.8 L1218.0,342.8 L1220.0,339.6 L1222.0,336.2 L1224.0,333.1 L1226.0,330.4 L1228.0,328.3 L1230.0,326.5 L1232.0,324.8 L1234.0,323.4 L1236.0,322.4 L1238.0,321.7 L1240.0,321.1 L1242.0,320.5 L1244.0,320.0 L1246.0,319.6 L1248.0,319.3 L1250.0,319.1 L1252.0,319.0 L1254.0,319.1 L1256.0,319.3 L1258.0,319.7 L1260.0,320.1 L1262.0,320.6 L1264.0,321.2 L1266.0,321.8 L1268.0,322.6 L1270.0,323.8 L1272.0,325.3 L1274.0,327.1 L1276.0,329.0 L1278.0,330.9 L1280.0,332.7 L1282.0,334.8 L1284.0,337.0 L1286.0,339.2 L1288.0,341.6 L1290.0,343.9 L1292.0,346.2 L1294.0,348.6 L1296.0,351.0 L1298.0,353.4 L1300.0,355.9 L1302.0,358.2 L1304.0,360.6 L1306.0,362.9 L1308.0,365.3 L1310.0,367.6 L1312.0,369.9 L1314.0,372.0 L1316.0,373.9 L1318.0,375.6 L1320.0,377.3 L1322.0,379.0 L1324.0,380.5 L1326.0,381.9 L1328.0,383.2 L1330.0,384.5 L1332.0,385.6 L1334.0,386.6 L1336.0,387.7 L1338.0,388.6 L1340.0,389.6 L1342.0,390.4 L1344.0,391.3 L1346.0,392.0 L1348.0,392.7 L1350.0,393.3 L1352.0,393.8 L1354.0,394.4 L1356.0,394.9 L1358.0,395.4 L1360.0,395.9 L1362.0,396.3 L1364.0,396.7 L1366.0,397.1 L1368.0,397.4 L1370.0,397.7 L1372.0,398.0 L1374.0,398.2 L1376.0,398.4 L1378.0,398.5 L1380.0,398.7 L1382.0,398.9 L1384.0,399.0 L1386.0,399.2 L1388.0,399.3 L1390.0,399.4 L1392.0,399.6 L1394.0,399.7 L1396.0,399.8 L1398.0,399.9 L1400.0,400.0 L1402.0,400.1 L1404.0,400.1 L1406.0,400.2 L1408.0,400.2 L1410.0,400.3 L1412.0,400.3 L1414.0,400.3 L1416.0,400.3 L1418.0,400.3 L1420.0,400.3 L1422.0,400.3 L1424.0,400.3 L1426.0,400.3 L1428.0,400.2 L1430.0,400.2 L1432.0,400.2 L1434.0,400.2 L1436.0,400.1 L1438.0,400.1 L1440.0,400.1 L1442.0,400.1 L1444.0,400.0 L1446.0,400.0 L1448.0,400.0 L1450.0,399.9 L1452.0,399.9 L1454.0,399.9 L1456.0,399.8 L1458.0,399.8 L1460.0,399.7 L1462.0,399.7 L1464.0,399.7 L1466.0,399.6 L1468.0,399.6 L1470.0,399.6 L1472.0,399.5 L1474.0,399.5 L1476.0,399.5 L1478.0,399.4 L1480.0,399.4 L1482.0,399.4 L1484.0,399.3 L1486.0,399.3 L1488.0,399.3 L1490.0,399.3 L1492.0,399.3 L1494.0,399.2 L1496.0,399.2 L1498.0,399.2 L1500.0,399.2 L1502.0,399.2 L1504.0,399.2 L1506.0,399.2 L1508.0,399.2 L1510.0,399.2 L1512.0,399.2 L1514.0,399.1 L1516.0,399.1 L1518.0,399.1 L1520.0,399.1 L1522.0,399.1 L1524.0,399.1 L1526.0,399.1 L1528.0,399.1 L1530.0,399.1 L1532.0,399.1 L1534.0,399.1 L1536.0,399.1 L1538.0,399.1 L1540.0,399.1 L1542.0,399.1 L1544.0,399.0 L1546.0,399.0 L1548.0,399.0 L1550.0,399.0 L1552.0,399.0 L1554.0,399.0 L1556.0,399.0 L1558.0,399.0 L1560.0,399.0 L1562.0,399.0 L1564.0,399.0 L1566.0,399.0 L1568.0,399.0 L1570.0,399.0 L1572.0,399.0 L1574.0,399.0 L1576.0,399.0 L1578.0,399.0 L1580.0,398.9 L1582.0,398.9 L1584.0,398.9 L1586.0,398.9 L1588.0,398.9 L1590.0,398.9 L1592.0,398.9 L1594.0,398.9 L1596.0,398.9 L1598.0,398.9 L1600.0,398.9 L1602.0,398.9 L1604.0,398.9 L1606.0,398.9 L1608.0,398.9 L1610.0,398.9 L1612.0,398.9 L1614.0,398.9 L1616.0,398.9 L1618.0,398.9 L1620.0,398.9 L1622.0,398.9 L1624.0,398.9 L1626.0,398.9 L1628.0,398.9 L1630.0,398.9 L1632.0,398.8 L1634.0,398.8 L1636.0,398.8 L1638.0,398.8 L1640.0,398.8 L1642.0,398.8 L1644.0,398.8 L1646.0,398.8 L1648.0,398.8 L1650.0,398.8 L1652.0,398.8 L1654.0,398.8 L1656.0,398.8 L1658.0,398.8 L1660.0,398.8 L1662.0,398.8 L1664.0,398.8 L1666.0,398.8 L1668.0,398.8 L1670.0,398.8 L1672.0,398.8 L1674.0,398.8 L1676.0,398.8 L1678.0,398.8 L1680.0,398.8 L1682.0,398.8 L1684.0,398.8 L1686.0,398.8 L1688.0,398.8 L1690.0,398.8 L1692.0,398.8 L1694.0,398.8 L1696.0,398.8 L1698.0,398.8 L1700.0,398.8 L1702.0,398.8 L1704.0,398.8 L1706.0,398.8 L1708.0,398.8 L1710.0,398.8 L1712.0,398.8 L1714.0,398.8 L1716.0,398.8 L1718.0,398.8 L1720.0,398.8 L1722.0,398.8 L1724.0,398.8 L1726.0,398.8 L1728.0,398.8 L1730.0,398.8 L1732.0,398.8 L1734.0,398.8 L1736.0,398.8 L1738.0,398.8 L1740.0,398.8 L1742.0,398.8 L1744.0,398.8 L1746.0,398.8 L1748.0,398.8 L1750.0,398.8 L1752.0,398.8 L1754.0,398.8 L1756.0,398.8 L1758.0,398.8 L1760.0,398.8 L1762.0,398.8 L1764.0,398.8 L1766.0,398.8 L1768.0,398.8 L1770.0,398.8 L1772.0,398.8 L1774.0,398.8 L1776.0,398.8 L1778.0,398.8 L1780.0,398.8 L1782.0,398.8 L1784.0,398.8 L1786.0,398.8 L1788.0,398.8 L1790.0,398.8 L1792.0,398.8 L1794.0,398.8 L1796.0,398.8 L1798.0,398.8 L1800.0,398.8 L1802.0,398.8 L1804.0,398.8 L1806.0,398.8 L1808.0,398.8 L1810.0,398.8 L1812.0,398.8 L1814.0,398.8 L1816.0,398.8 L1818.0,398.8 L1820.0,398.8 L1822.0,398.8 L1824.0,398.8 L1826.0,398.8 L1828.0,398.8 L1830.0,398.8 L1832.0,398.8 L1834.0,398.8 L1836.0,398.8 L1838.0,398.8 L1840.0,398.8 L1842.0,398.8 L1844.0,398.8 L1846.0,398.8 L1848.0,398.8 L1850.0,398.8 L1852.0,398.8 L1854.0,398.8 L1856.0,398.8 L1858.0,398.8 L1860.0,398.8 L1862.0,398.8 L1864.0,398.8 L1866.0,398.8 L1868.0,398.8 L1870.0,398.8 L1872.0,398.8 L1874.0,398.8 L1876.0,398.8 L1878.0,398.8 L1880.0,398.8 L1882.0,398.8 L1884.0,398.8 L1886.0,398.8 L1888.0,398.8 L1890.0,398.8 L1892.0,398.8 L1894.0,398.8 L1896.0,398.8 L1898.0,398.8" fill="none" stroke="#dc9882" stroke-width="6.3" stroke-linejoin="round"/>
<path d="M1036.0,567.8 L1038.0,567.8 L1040.0,567.8 L1042.0,567.8 L1044.0,567.8 L1046.0,567.8 L1048.0,567.8 L1050.0,567.8 L1052.0,567.8 L1054.0,567.8 L1056.0,567.8 L1058.0,567.8 L1060.0,567.8 L1062.0,567.8 L1064.0,567.8 L1066.0,567.8 L1068.0,567.8 L1070.0,567.8 L1072.0,567.8 L1074.0,567.8 L1076.0,567.8 L1078.0,567.8 L1080.0,567.8 L1082.0,567.8 L1084.0,567.8 L1086.0,567.8 L1088.0,567.8 L1090.0,567.8 L1092.0,567.8 L1094.0,567.8 L1096.0,567.8 L1098.0,567.8 L1100.0,567.8 L1102.0,567.8 L1104.0,567.8 L1106.0,567.8 L1108.0,567.8 L1110.0,567.8 L1112.0,567.8 L1114.0,567.8 L1116.0,567.8 L1118.0,567.8 L1120.0,567.8 L1122.0,567.8 L1124.0,567.8 L1126.0,567.8 L1128.0,567.8 L1130.0,567.8 L1132.0,567.8 L1134.0,567.8 L1136.0,567.8 L1138.0,567.8 L1140.0,567.8 L1142.0,567.8 L1144.0,567.8 L1146.0,567.8 L1148.0,567.8 L1150.0,567.8 L1152.0,567.8 L1154.0,567.8 L1156.0,567.8 L1158.0,567.8 L1160.0,567.8 L1162.0,567.8 L1164.0,567.8 L1166.0,567.8 L1168.0,567.8 L1170.0,567.8 L1172.0,567.8 L1174.0,567.8 L1176.0,567.8 L1178.0,567.8 L1180.0,567.8 L1182.0,567.8 L1184.0,567.8 L1186.0,567.8 L1188.0,567.8 L1190.0,567.8 L1192.0,567.8 L1194.0,567.8 L1196.0,567.8 L1198.0,567.8 L1200.0,567.8 L1202.0,567.8 L1204.0,567.8 L1206.0,567.8 L1208.0,567.8 L1210.0,567.8 L1212.0,567.8 L1214.0,567.8 L1216.0,567.8 L1218.0,567.8 L1220.0,567.8 L1222.0,567.8 L1224.0,567.8 L1226.0,567.8 L1228.0,567.7 L1230.0,567.6 L1232.0,567.4 L1234.0,567.2 L1236.0,567.0 L1238.0,566.7 L1240.0,566.4 L1242.0,566.1 L1244.0,565.8 L1246.0,565.3 L1248.0,564.6 L1250.0,563.7 L1252.0,562.7 L1254.0,561.7 L1256.0,560.7 L1258.0,559.6 L1260.0,558.5 L1262.0,557.2 L1264.0,555.9 L1266.0,554.6 L1268.0,553.2 L1270.0,551.7 L1272.0,550.3 L1274.0,548.8 L1276.0,547.4 L1278.0,546.0 L1280.0,544.5 L1282.0,543.0 L1284.0,541.4 L1286.0,539.9 L1288.0,538.3 L1290.0,536.8 L1292.0,535.3 L1294.0,533.8 L1296.0,532.4 L1298.0,531.0 L1300.0,529.5 L1302.0,528.1 L1304.0,526.6 L1306.0,525.2 L1308.0,523.9 L1310.0,522.6 L1312.0,521.3 L1314.0,520.2 L1316.0,519.2 L1318.0,518.2 L1320.0,517.2 L1322.0,516.2 L1324.0,515.4 L1326.0,514.5 L1328.0,513.8 L1330.0,513.2 L1332.0,512.7 L1334.0,512.2 L1336.0,511.8 L1338.0,511.5 L1340.0,511.1 L1342.0,510.8 L1344.0,510.6 L1346.0,510.4 L1348.0,510.3 L1350.0,510.3 L1352.0,510.4 L1354.0,510.5 L1356.0,510.6 L1358.0,510.8 L1360.0,511.0 L1362.0,511.2 L1364.0,511.4 L1366.0,511.7 L1368.0,511.9 L1370.0,512.2 L1372.0,512.6 L1374.0,513.0 L1376.0,513.6 L1378.0,514.1 L1380.0,514.8 L1382.0,515.4 L1384.0,516.1 L1386.0,516.8 L1388.0,517.4 L1390.0,518.1 L1392.0,518.9 L1394.0,519.7 L1396.0,520.5 L1398.0,521.4 L1400.0,522.3 L1402.0,523.2 L1404.0,524.2 L1406.0,525.1 L1408.0,526.0 L1410.0,527.0 L1412.0,527.9 L1414.0,528.8 L1416.0,529.7 L1418.0,530.5 L1420.0,531.4 L1422.0,532.3 L1424.0,533.2 L1426.0,534.0 L1428.0,534.9 L1430.0,535.8 L1432.0,536.7 L1434.0,537.5 L1436.0,538.4 L1438.0,539.3 L1440.0,540.2 L1442.0,541.0 L1444.0,541.9 L1446.0,542.8 L1448.0,543.7 L1450.0,544.7 L1452.0,545.6 L1454.0,546.5 L1456.0,547.4 L1458.0,548.3 L1460.0,549.2 L1462.0,550.0 L1464.0,550.8 L1466.0,551.6 L1468.0,552.3 L1470.0,553.1 L1472.0,553.8 L1474.0,554.5 L1476.0,555.2 L1478.0,555.9 L1480.0,556.6 L1482.0,557.2 L1484.0,557.8 L1486.0,558.4 L1488.0,559.0 L1490.0,559.5 L1492.0,560.0 L1494.0,560.4 L1496.0,560.8 L1498.0,561.2 L1500.0,561.6 L1502.0,562.0 L1504.0,562.3 L1506.0,562.6 L1508.0,563.0 L1510.0,563.3 L1512.0,563.5 L1514.0,563.8 L1516.0,564.1 L1518.0,564.3 L1520.0,564.5 L1522.0,564.8 L1524.0,565.0 L1526.0,565.2 L1528.0,565.4 L1530.0,565.6 L1532.0,565.8 L1534.0,566.0 L1536.0,566.2 L1538.0,566.4 L1540.0,566.6 L1542.0,566.7 L1544.0,566.9 L1546.0,567.0 L1548.0,567.1 L1550.0,567.1 L1552.0,567.2 L1554.0,567.2 L1556.0,567.2 L1558.0,567.3 L1560.0,567.3 L1562.0,567.3 L1564.0,567.3 L1566.0,567.3 L1568.0,567.4 L1570.0,567.4 L1572.0,567.4 L1574.0,567.4 L1576.0,567.4 L1578.0,567.4 L1580.0,567.5 L1582.0,567.5 L1584.0,567.5 L1586.0,567.5 L1588.0,567.5 L1590.0,567.5 L1592.0,567.5 L1594.0,567.5 L1596.0,567.6 L1598.0,567.6 L1600.0,567.6 L1602.0,567.6 L1604.0,567.6 L1606.0,567.6 L1608.0,567.6 L1610.0,567.6 L1612.0,567.6 L1614.0,567.6 L1616.0,567.6 L1618.0,567.7 L1620.0,567.7 L1622.0,567.7 L1624.0,567.7 L1626.0,567.7 L1628.0,567.7 L1630.0,567.7 L1632.0,567.7 L1634.0,567.7 L1636.0,567.7 L1638.0,567.7 L1640.0,567.7 L1642.0,567.7 L1644.0,567.7 L1646.0,567.7 L1648.0,567.8 L1650.0,567.8 L1652.0,567.8 L1654.0,567.8 L1656.0,567.8 L1658.0,567.8 L1660.0,567.8 L1662.0,567.8 L1664.0,567.8 L1666.0,567.8 L1668.0,567.8 L1670.0,567.8 L1672.0,567.9 L1674.0,567.9 L1676.0,567.9 L1678.0,567.9 L1680.0,567.9 L1682.0,567.9 L1684.0,567.9 L1686.0,567.9 L1688.0,567.9 L1690.0,567.9 L1692.0,567.9 L1694.0,567.9 L1696.0,567.9 L1698.0,568.0 L1700.0,568.0 L1702.0,568.0 L1704.0,568.0 L1706.0,568.0 L1708.0,568.0 L1710.0,568.0 L1712.0,568.0 L1714.0,568.0 L1716.0,568.0 L1718.0,568.0 L1720.0,568.0 L1722.0,568.0 L1724.0,568.0 L1726.0,568.0 L1728.0,568.1 L1730.0,568.1 L1732.0,568.1 L1734.0,568.1 L1736.0,568.1 L1738.0,568.1 L1740.0,568.1 L1742.0,568.1 L1744.0,568.1 L1746.0,568.1 L1748.0,568.1 L1750.0,568.1 L1752.0,568.1 L1754.0,568.1 L1756.0,568.1 L1758.0,568.2 L1760.0,568.2 L1762.0,568.2 L1764.0,568.2 L1766.0,568.2 L1768.0,568.2 L1770.0,568.2 L1772.0,568.2 L1774.0,568.2 L1776.0,568.2 L1778.0,568.2 L1780.0,568.2 L1782.0,568.2 L1784.0,568.2 L1786.0,568.3 L1788.0,568.3 L1790.0,568.3 L1792.0,568.3 L1794.0,568.3 L1796.0,568.3 L1798.0,568.3 L1800.0,568.3 L1802.0,568.3 L1804.0,568.3 L1806.0,568.3 L1808.0,568.3 L1810.0,568.3 L1812.0,568.3 L1814.0,568.4 L1816.0,568.4 L1818.0,568.4 L1820.0,568.4 L1822.0,568.4 L1824.0,568.4 L1826.0,568.4 L1828.0,568.4 L1830.0,568.4 L1832.0,568.4 L1834.0,568.4 L1836.0,568.4 L1838.0,568.4 L1840.0,568.4 L1842.0,568.5 L1844.0,568.5 L1846.0,568.5 L1848.0,568.5 L1850.0,568.5 L1852.0,568.5 L1854.0,568.5 L1856.0,568.5 L1858.0,568.5 L1860.0,568.5 L1862.0,568.5 L1864.0,568.5 L1866.0,568.5 L1868.0,568.6 L1870.0,568.6 L1872.0,568.6 L1874.0,568.6 L1876.0,568.6 L1878.0,568.6 L1880.0,568.6 L1882.0,568.6 L1884.0,568.6 L1886.0,568.6 L1888.0,568.6 L1890.0,568.6 L1892.0,568.6 L1894.0,568.6 L1896.0,568.7 L1898.0,568.7 L1900.0,568.7 L1902.0,568.7 L1904.0,568.7 L1906.0,568.7 L1908.0,568.7" fill="none" stroke="#ae505d" stroke-width="6.8" stroke-linejoin="round"/>
</g>
<g id="labels">
<text class="t" x="129.0" y="742">10</text>
<text class="t" x="235.4" y="742">20</text>
<text class="t" x="347.2" y="742">30</text>
<text class="t" x="453.6" y="742">40</text>
<text class="t" x="564.1" y="742">50</text>
<text class="t" x="673.3" y="742">60</text>
<text class="t" x="780.3" y="742">70</text>
<text class="l" x="458.9" y="790" text-anchor="middle" style="font-size:54.7px">2 Theta (degrees)</text>
<text class="l" transform="translate(80 384.5) rotate(-90)" text-anchor="middle" style="font-size:55px">Intensity (a.u.)</text>
<text x="33.6" y="103" style="font-size:59px">A</text>
<text class="l" x="734" y="221.5" style="font-size:57px">SiO<tspan class="s" dy="18" dx="-3">2</tspan></text>
<text class="l" x="762" y="374">Au</text>
<text class="l" x="714.3" y="529.8">Fe<tspan class="s" dy="19">3</tspan><tspan dy="-19">O</tspan><tspan class="s" dy="19" dx="-3">4</tspan></text>
<text class="t" x="1042.7" y="731">0</text>
<text class="t" x="1172.1" y="731">40</text>
<text class="t" x="1318.3" y="731">80</text>
<text class="t" x="1458.9" y="731">120</text>
<text class="t" x="1598.2" y="731">160</text>
<text class="t" x="1732.8" y="731">200</text>
<text class="t" x="1870.6" y="731">240</text>
<text class="l" x="1471.5" y="791.5" text-anchor="middle" style="font-size:54.5px">Hydrodynamic diameter (nm)</text>
<text class="l" transform="translate(989 385.3) rotate(-90)" text-anchor="middle" style="font-size:55px">Intensity (a.u.)</text>
<text x="943.5" y="103" style="font-size:58px">B</text>
<text class="l" x="1708.6" y="188.7">SNPs</text>
<text class="l" x="1707.2" y="369">GNPs</text>
<text class="l" x="1705" y="530.3">MNPs</text>
</g>
</g>
<g id="axesA">
<rect x="126" y="84.7" width="719.0" height="2.4" fill="#7e7e7e"/>
<rect x="126" y="82" width="5.1" height="611.5" fill="#3f3f3f"/>
<rect x="839.4" y="82" width="2.8" height="599.0" fill="#343434"/>
<rect x="842.2" y="82" width="2.8" height="599.0" fill="#7a7a7a"/>
<rect x="126" y="675.5" width="719.0" height="5.5" fill="#363636"/>
<rect x="126" y="82" width="719.0" height="2.7" fill="#000"/>
<g stroke="#111" stroke-width="3">
<line x1="237.0" y1="679" x2="237.0" y2="693"/>
<line x1="345.5" y1="679" x2="345.5" y2="693"/>
<line x1="453.9" y1="679" x2="453.9" y2="693"/>
<line x1="562.4" y1="679" x2="562.4" y2="693"/>
<line x1="670.8" y1="679" x2="670.8" y2="693"/>
<line x1="779.2" y1="679" x2="779.2" y2="693"/>
<line x1="182.8" y1="679" x2="182.8" y2="686" stroke="#3a3a3a" stroke-width="3.8"/>
<line x1="291.3" y1="679" x2="291.3" y2="686" stroke="#3a3a3a" stroke-width="3.8"/>
<line x1="399.7" y1="679" x2="399.7" y2="686" stroke="#3a3a3a" stroke-width="3.8"/>
<line x1="508.1" y1="679" x2="508.1" y2="686" stroke="#3a3a3a" stroke-width="3.8"/>
<line x1="616.6" y1="679" x2="616.6" y2="686" stroke="#3a3a3a" stroke-width="3.8"/>
<line x1="725.0" y1="679" x2="725.0" y2="686" stroke="#3a3a3a" stroke-width="3.8"/>
<line x1="833.5" y1="679" x2="833.5" y2="686" stroke="#3a3a3a" stroke-width="3.8"/>
</g></g>
<g id="axesB">
<rect x="1035.4" y="84.7" width="874.2" height="2.4" fill="#7e7e7e"/>
<rect x="1035.4" y="82" width="5.1" height="605.5" fill="#3f3f3f"/>
<rect x="1904.0" y="82" width="2.8" height="598.5" fill="#343434"/>
<rect x="1906.8" y="82" width="2.8" height="598.5" fill="#7a7a7a"/>
<rect x="1035.4" y="669.7" width="874.2" height="5.5" fill="#363636"/>
<rect x="1035.4" y="82" width="874.2" height="2.7" fill="#000"/>
<g stroke="#111" stroke-width="3">
<line x1="1072.3" y1="673" x2="1072.3" y2="681" stroke="#2a2a2a"/>
<line x1="1107.0" y1="673" x2="1107.0" y2="687"/>
<line x1="1141.8" y1="673" x2="1141.8" y2="681" stroke="#2a2a2a"/>
<line x1="1176.6" y1="673" x2="1176.6" y2="687"/>
<line x1="1211.3" y1="673" x2="1211.3" y2="681" stroke="#2a2a2a"/>
<line x1="1246.1" y1="673" x2="1246.1" y2="687"/>
<line x1="1280.9" y1="673" x2="1280.9" y2="681" stroke="#2a2a2a"/>
<line x1="1315.7" y1="673" x2="1315.7" y2="687"/>
<line x1="1350.4" y1="673" x2="1350.4" y2="681" stroke="#2a2a2a"/>
<line x1="1385.2" y1="673" x2="1385.2" y2="687"/>
<line x1="1420.0" y1="673" x2="1420.0" y2="681" stroke="#2a2a2a"/>
<line x1="1454.7" y1="673" x2="1454.7" y2="687"/>
<line x1="1489.5" y1="673" x2="1489.5" y2="681" stroke="#2a2a2a"/>
<line x1="1524.3" y1="673" x2="1524.3" y2="687"/>
<line x1="1559.0" y1="673" x2="1559.0" y2="681" stroke="#2a2a2a"/>
<line x1="1593.8" y1="673" x2="1593.8" y2="687"/>
<line x1="1628.6" y1="673" x2="1628.6" y2="681" stroke="#2a2a2a"/>
<line x1="1663.4" y1="673" x2="1663.4" y2="687"/>
<line x1="1698.1" y1="673" x2="1698.1" y2="681" stroke="#2a2a2a"/>
<line x1="1732.9" y1="673" x2="1732.9" y2="687"/>
<line x1="1767.7" y1="673" x2="1767.7" y2="681" stroke="#2a2a2a"/>
<line x1="1802.4" y1="673" x2="1802.4" y2="687"/>
<line x1="1837.2" y1="673" x2="1837.2" y2="681" stroke="#2a2a2a"/>
<line x1="1872.0" y1="673" x2="1872.0" y2="687"/>
</g></g>
</svg></body></html>
